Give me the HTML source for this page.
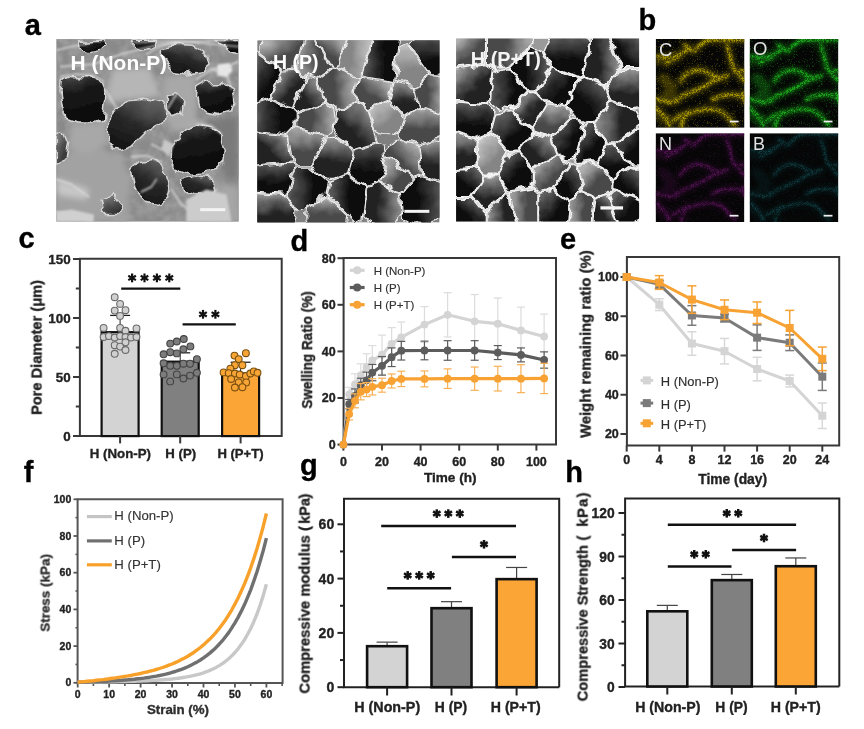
<!DOCTYPE html>
<html><head><meta charset="utf-8"><style>
html,body{margin:0;padding:0;background:#fff;}
body{width:864px;height:729px;overflow:hidden;}
svg{display:block;font-family:"Liberation Sans", sans-serif;-webkit-font-smoothing:antialiased;}
text{will-change:transform;}
</style></head><body>
<svg width="864" height="729" viewBox="0 0 864 729">
<rect width="864" height="729" fill="#fff"/>
<defs>
<filter id="blur1" x="-5%" y="-5%" width="110%" height="110%"><feGaussianBlur stdDeviation="4"/></filter>
<filter id="blur2" x="-5%" y="-5%" width="110%" height="110%"><feGaussianBlur stdDeviation="12"/></filter>
<filter id="blurE" x="-5%" y="-5%" width="110%" height="110%"><feGaussianBlur stdDeviation="8"/></filter>
<filter id="tex" x="0" y="0" width="100%" height="100%">
  <feTurbulence type="fractalNoise" baseFrequency="0.02" numOctaves="3" seed="7" result="n"/>
  <feColorMatrix in="n" type="matrix" values="0 0 0 0 0  0 0 0 0 0  0 0 0 0 0  0 0 0 1.6 -0.55" result="a"/>
  <feComposite in="SourceGraphic" in2="a" operator="in"/>
</filter>
<filter id="disp" x="-5%" y="-5%" width="110%" height="110%">
  <feTurbulence type="fractalNoise" baseFrequency="0.018" numOctaves="2" seed="3" result="t"/>
  <feDisplacementMap in="SourceGraphic" in2="t" scale="45" xChannelSelector="R" yChannelSelector="G" result="d"/>
  <feGaussianBlur in="d" stdDeviation="2.2"/>
</filter>
<filter id="disp2" x="-5%" y="-5%" width="110%" height="110%">
  <feTurbulence type="fractalNoise" baseFrequency="0.022" numOctaves="2" seed="9" result="t"/>
  <feDisplacementMap in="SourceGraphic" in2="t" scale="40" xChannelSelector="R" yChannelSelector="G" result="d"/>
  <feGaussianBlur in="d" stdDeviation="2"/>
</filter>
<clipPath id="clipS"><rect x="0" y="0" width="729" height="729"/></clipPath>
<clipPath id="clipE"><rect x="0" y="0" width="720" height="720"/></clipPath>
<linearGradient id="gV" x1="0.2" y1="0" x2="0.5" y2="1"><stop offset="0" stop-color="#484848"/><stop offset="0.35" stop-color="#181818"/><stop offset="1" stop-color="#0a0a0a"/></linearGradient>
<linearGradient id="gD" x1="0.8" y1="0" x2="0.3" y2="1"><stop offset="0" stop-color="#6a6a6a"/><stop offset="0.5" stop-color="#2a2a2a"/><stop offset="1" stop-color="#121212"/></linearGradient>
<linearGradient id="gM" x1="0" y1="0.1" x2="0.6" y2="1"><stop offset="0" stop-color="#8a8a8a"/><stop offset="0.55" stop-color="#555"/><stop offset="1" stop-color="#2e2e2e"/></linearGradient>
<filter id="speck" x="0" y="0" width="100%" height="100%">
  <feTurbulence type="fractalNoise" baseFrequency="0.3" numOctaves="1" seed="4" result="n"/>
  <feColorMatrix in="n" type="matrix" values="0 0 0 0 0  0 0 0 0 0  0 0 0 0 0  0 0 0 10 -6.0" result="a"/>
  <feComposite in="SourceGraphic" in2="a" operator="in"/>
</filter>
<filter id="grain" x="0" y="0" width="100%" height="100%">
  <feGaussianBlur in="SourceGraphic" stdDeviation="6" result="b"/>
  <feTurbulence type="fractalNoise" baseFrequency="0.28" numOctaves="1" seed="11" result="n"/>
  <feColorMatrix in="n" type="matrix" values="0 0 0 0 0  0 0 0 0 0  0 0 0 0 0  0 0 0 4 -1.6" result="a"/>
  <feComposite in="b" in2="a" operator="in"/>
</filter>
</defs>
<g transform="translate(56.2,39.1) scale(0.25048)" clip-path="url(#clipS)">
<rect x="0" y="0" width="729" height="729" fill="#8a8a8a"/>
<g filter="url(#tex)"><rect x="0" y="0" width="729" height="729" fill="#a8a8a8"/></g>
<g filter="url(#blur2)">
<polygon points="0,470 120,430 260,460 300,560 280,729 0,729" fill="#a2a2a2" stroke="none" stroke-width="0" stroke-linejoin="round" />
<polygon points="60,340 200,330 210,420 120,460 50,430" fill="#a8a8a8" stroke="none" stroke-width="0" stroke-linejoin="round" />
<polygon points="460,300 560,330 600,340 540,360 470,370" fill="#b4b4b4" stroke="none" stroke-width="0" stroke-linejoin="round" />
<polygon points="430,150 560,140 560,330 470,370 420,300" fill="#a8a8a8" stroke="none" stroke-width="0" stroke-linejoin="round" />
<polygon points="220,120 370,110 420,230 300,240 200,250" fill="#b6b6b6" stroke="none" stroke-width="0" stroke-linejoin="round" />
<polygon points="0,560 130,600 120,640 0,620" fill="#c8c8c8" stroke="none" stroke-width="0" stroke-linejoin="round" />
<polygon points="560,600 729,580 729,729 520,729" fill="#a6a6a6" stroke="none" stroke-width="0" stroke-linejoin="round" />
<polygon points="600,330 729,300 729,560 680,560" fill="#7a7a7a" stroke="none" stroke-width="0" stroke-linejoin="round" />
</g>
<g filter="url(#disp)">
<polygon points="20,170 60,150 140,150 180,165 195,200 190,260 185,320 150,335 80,335 40,320 25,280 15,220" fill="url(#gV)" stroke="#d4d4d4" stroke-width="6" stroke-linejoin="round" />
<polygon points="205,320 240,275 290,245 350,240 410,255 440,285 430,330 400,350 360,370 330,400 300,430 260,445 225,440 205,400" fill="url(#gD)" stroke="#d4d4d4" stroke-width="6" stroke-linejoin="round" />
<polygon points="565,190 600,170 660,170 700,200 710,250 700,290 650,305 600,295 570,270 560,230" fill="url(#gV)" stroke="#d4d4d4" stroke-width="6" stroke-linejoin="round" />
<polygon points="460,440 480,400 520,365 570,345 620,355 660,390 675,440 670,490 640,520 590,535 530,540 485,520 460,490" fill="url(#gV)" stroke="#d4d4d4" stroke-width="6" stroke-linejoin="round" />
<polygon points="300,520 330,490 380,480 420,500 440,540 450,600 440,640 400,660 360,650 330,620 310,580" fill="url(#gD)" stroke="#d4d4d4" stroke-width="6" stroke-linejoin="round" />
<polygon points="420,30 470,20 540,25 600,60 610,100 580,125 520,135 470,125 440,100 420,70" fill="url(#gD)" stroke="#d4d4d4" stroke-width="6" stroke-linejoin="round" />
<polygon points="90,10 180,5 200,20 180,40 130,50 90,35" fill="url(#gV)" stroke="#d4d4d4" stroke-width="6" stroke-linejoin="round" />
<polygon points="300,5 400,5 395,25 350,40 310,30" fill="url(#gV)" stroke="#d4d4d4" stroke-width="6" stroke-linejoin="round" />
<polygon points="500,560 560,545 620,555 640,600 610,625 560,620 510,600" fill="url(#gD)" stroke="#d4d4d4" stroke-width="6" stroke-linejoin="round" />
<polygon points="0,380 30,370 50,420 40,480 0,500" fill="url(#gM)" stroke="#d4d4d4" stroke-width="6" stroke-linejoin="round" />
<polygon points="180,640 230,620 260,660 240,700 190,700" fill="url(#gM)" stroke="#d4d4d4" stroke-width="6" stroke-linejoin="round" />
<polygon points="440,230 480,220 510,250 500,300 460,310 440,280" fill="url(#gD)" stroke="#d4d4d4" stroke-width="6" stroke-linejoin="round" />
<polygon points="640,10 729,10 729,60 690,50" fill="url(#gV)" stroke="#d4d4d4" stroke-width="6" stroke-linejoin="round" />
</g>
<g fill="none" stroke="#e0e0e0" stroke-width="7" stroke-linecap="round" stroke-linejoin="round" opacity="0.8" filter="url(#blur1)">
<path d="M0,560 L60,580 L130,630"/>
<path d="M20,110 L150,100 L260,60 L420,20 L729,0"/>
<path d="M560,160 L620,120 L680,110 L729,90"/>
<path d="M380,420 L420,440 L460,430"/>
<path d="M340,610 L380,590 L400,560"/>
<path d="M560,620 L600,640 L640,600"/>
<path d="M650,130 L700,110"/>
<path d="M195,200 L240,275"/>
<path d="M440,285 L480,220"/>
<path d="M0,690 L80,700 L140,729"/>
<path d="M460,600 L500,660 L560,700"/>
<path d="M620,120 L680,140 L700,200"/>
</g>
<g filter="url(#blur1)">
<polygon points="644,101 690,95 705,125 680,151 644,145" fill="#e6e6e6" stroke="none" stroke-width="0" stroke-linejoin="round" />
<polygon points="0,690 60,680 150,700 150,729 0,729" fill="#d0d0d0" stroke="none" stroke-width="0" stroke-linejoin="round" />
<polygon points="430,400 470,420 450,470 420,440" fill="#c8c8c8" stroke="none" stroke-width="0" stroke-linejoin="round" />
<polygon points="520,640 600,600 680,620 700,729 520,729" fill="#cccccc" stroke="none" stroke-width="0" stroke-linejoin="round" />
</g>
<g fill="none" stroke="#f0f0f0" stroke-width="5" stroke-linecap="round" opacity="0.85" filter="url(#blur1)">
<path d="M362,60 L412,30 L488,10"/>
<path d="M300,12 L500,8 L729,30"/>
<path d="M20,150 L80,140 L150,145 L190,170"/>
<path d="M300,470 L360,465 L420,490"/>
<path d="M560,340 L620,345 L660,380"/>
<path d="M0,45 L60,30 L120,20"/>
</g>
<rect x="575" y="675" width="100" height="12" fill="#f4f4f4"/>
</g>
<defs><linearGradient id="gV0" x1="0.00" y1="0.50" x2="1.00" y2="0.50"><stop offset="0" stop-color="#606060"/><stop offset="0.62" stop-color="#0e0e0e"/><stop offset="1" stop-color="#0e0e0e"/></linearGradient><linearGradient id="gV1" x1="0.50" y1="0.00" x2="0.50" y2="1.00"><stop offset="0" stop-color="#606060"/><stop offset="0.62" stop-color="#0e0e0e"/><stop offset="1" stop-color="#0e0e0e"/></linearGradient><linearGradient id="gV2" x1="1.00" y1="0.50" x2="0.00" y2="0.50"><stop offset="0" stop-color="#606060"/><stop offset="0.62" stop-color="#0e0e0e"/><stop offset="1" stop-color="#0e0e0e"/></linearGradient><linearGradient id="gV3" x1="0.50" y1="1.00" x2="0.50" y2="0.00"><stop offset="0" stop-color="#606060"/><stop offset="0.62" stop-color="#0e0e0e"/><stop offset="1" stop-color="#0e0e0e"/></linearGradient><linearGradient id="gV4" x1="0.15" y1="0.15" x2="0.85" y2="0.85"><stop offset="0" stop-color="#606060"/><stop offset="0.62" stop-color="#0e0e0e"/><stop offset="1" stop-color="#0e0e0e"/></linearGradient><linearGradient id="gV5" x1="0.85" y1="0.15" x2="0.15" y2="0.85"><stop offset="0" stop-color="#606060"/><stop offset="0.62" stop-color="#0e0e0e"/><stop offset="1" stop-color="#0e0e0e"/></linearGradient><linearGradient id="gD0" x1="0.00" y1="0.50" x2="1.00" y2="0.50"><stop offset="0" stop-color="#9a9a9a"/><stop offset="0.62" stop-color="#222222"/><stop offset="1" stop-color="#222222"/></linearGradient><linearGradient id="gD1" x1="0.50" y1="0.00" x2="0.50" y2="1.00"><stop offset="0" stop-color="#9a9a9a"/><stop offset="0.62" stop-color="#222222"/><stop offset="1" stop-color="#222222"/></linearGradient><linearGradient id="gD2" x1="1.00" y1="0.50" x2="0.00" y2="0.50"><stop offset="0" stop-color="#9a9a9a"/><stop offset="0.62" stop-color="#222222"/><stop offset="1" stop-color="#222222"/></linearGradient><linearGradient id="gD3" x1="0.50" y1="1.00" x2="0.50" y2="0.00"><stop offset="0" stop-color="#9a9a9a"/><stop offset="0.62" stop-color="#222222"/><stop offset="1" stop-color="#222222"/></linearGradient><linearGradient id="gD4" x1="0.15" y1="0.15" x2="0.85" y2="0.85"><stop offset="0" stop-color="#9a9a9a"/><stop offset="0.62" stop-color="#222222"/><stop offset="1" stop-color="#222222"/></linearGradient><linearGradient id="gD5" x1="0.85" y1="0.15" x2="0.15" y2="0.85"><stop offset="0" stop-color="#9a9a9a"/><stop offset="0.62" stop-color="#222222"/><stop offset="1" stop-color="#222222"/></linearGradient><linearGradient id="gM0" x1="0.00" y1="0.50" x2="1.00" y2="0.50"><stop offset="0" stop-color="#b0b0b0"/><stop offset="0.62" stop-color="#484848"/><stop offset="1" stop-color="#484848"/></linearGradient><linearGradient id="gM1" x1="0.50" y1="0.00" x2="0.50" y2="1.00"><stop offset="0" stop-color="#b0b0b0"/><stop offset="0.62" stop-color="#484848"/><stop offset="1" stop-color="#484848"/></linearGradient><linearGradient id="gM2" x1="1.00" y1="0.50" x2="0.00" y2="0.50"><stop offset="0" stop-color="#b0b0b0"/><stop offset="0.62" stop-color="#484848"/><stop offset="1" stop-color="#484848"/></linearGradient><linearGradient id="gM3" x1="0.50" y1="1.00" x2="0.50" y2="0.00"><stop offset="0" stop-color="#b0b0b0"/><stop offset="0.62" stop-color="#484848"/><stop offset="1" stop-color="#484848"/></linearGradient><linearGradient id="gM4" x1="0.15" y1="0.15" x2="0.85" y2="0.85"><stop offset="0" stop-color="#b0b0b0"/><stop offset="0.62" stop-color="#484848"/><stop offset="1" stop-color="#484848"/></linearGradient><linearGradient id="gM5" x1="0.85" y1="0.15" x2="0.15" y2="0.85"><stop offset="0" stop-color="#b0b0b0"/><stop offset="0.62" stop-color="#484848"/><stop offset="1" stop-color="#484848"/></linearGradient><linearGradient id="gL0" x1="0.00" y1="0.50" x2="1.00" y2="0.50"><stop offset="0" stop-color="#c8c8c8"/><stop offset="0.62" stop-color="#858585"/><stop offset="1" stop-color="#858585"/></linearGradient><linearGradient id="gL1" x1="0.50" y1="0.00" x2="0.50" y2="1.00"><stop offset="0" stop-color="#c8c8c8"/><stop offset="0.62" stop-color="#858585"/><stop offset="1" stop-color="#858585"/></linearGradient><linearGradient id="gL2" x1="1.00" y1="0.50" x2="0.00" y2="0.50"><stop offset="0" stop-color="#c8c8c8"/><stop offset="0.62" stop-color="#858585"/><stop offset="1" stop-color="#858585"/></linearGradient><linearGradient id="gL3" x1="0.50" y1="1.00" x2="0.50" y2="0.00"><stop offset="0" stop-color="#c8c8c8"/><stop offset="0.62" stop-color="#858585"/><stop offset="1" stop-color="#858585"/></linearGradient><linearGradient id="gL4" x1="0.15" y1="0.15" x2="0.85" y2="0.85"><stop offset="0" stop-color="#c8c8c8"/><stop offset="0.62" stop-color="#858585"/><stop offset="1" stop-color="#858585"/></linearGradient><linearGradient id="gL5" x1="0.85" y1="0.15" x2="0.15" y2="0.85"><stop offset="0" stop-color="#c8c8c8"/><stop offset="0.62" stop-color="#858585"/><stop offset="1" stop-color="#858585"/></linearGradient><filter id="bl05"><feGaussianBlur stdDeviation="2.2"/></filter></defs>
<g transform="translate(257.2,40.2) scale(0.25021)" clip-path="url(#clipS)">
<rect x="0" y="0" width="729" height="729" fill="#808080"/>
<g filter="url(#disp)">
<polygon points="103,122 -9,41 -18,44 -18,250 50,229 103,122" fill="url(#gV4)" stroke="#f0f0f0" stroke-width="4.5" stroke-linejoin="round" />
<polygon points="153,113 186,-18 29,-18 18,2 12,21 11,49 107,119 153,113" fill="url(#gM4)" stroke="#f0f0f0" stroke-width="4.5" stroke-linejoin="round" />
<polygon points="241,152 297,111 224,-18 191,-18 158,115 196,144 241,152" fill="url(#gM0)" stroke="#f0f0f0" stroke-width="4.5" stroke-linejoin="round" />
<polygon points="314,107 361,-18 233,-18 231,-15 301,109 314,107" fill="url(#gM5)" stroke="#f0f0f0" stroke-width="4.5" stroke-linejoin="round" />
<polygon points="413,139 458,-2 442,-18 366,-18 319,108 402,146 413,139" fill="url(#gL2)" stroke="#f0f0f0" stroke-width="4.5" stroke-linejoin="round" />
<polygon points="545,161 565,-5 543,-18 468,-18 418,139 545,161" fill="url(#gV0)" stroke="#f0f0f0" stroke-width="4.5" stroke-linejoin="round" />
<polygon points="600,13 582,18 566,26 551,160 630,178 691,139 600,13" fill="url(#gL1)" stroke="#f0f0f0" stroke-width="4.5" stroke-linejoin="round" />
<polygon points="717,138 736,129 746,120 746,0 736,-9 717,-18 658,-16 644,-9 632,2 615,25 696,138 717,138" fill="url(#gV1)" stroke="#f0f0f0" stroke-width="4.5" stroke-linejoin="round" />
<polygon points="140,268 191,147 154,118 108,124 55,230 140,268" fill="url(#gD4)" stroke="#f0f0f0" stroke-width="4.5" stroke-linejoin="round" />
<polygon points="270,247 240,158 196,149 144,271 156,289 270,247" fill="url(#gD5)" stroke="#f0f0f0" stroke-width="4.5" stroke-linejoin="round" />
<polygon points="320,281 386,251 399,150 316,112 301,114 245,156 275,247 320,281" fill="url(#gM2)" stroke="#f0f0f0" stroke-width="4.5" stroke-linejoin="round" />
<polygon points="525,236 542,166 415,144 404,150 391,251 442,282 525,236" fill="url(#gM5)" stroke="#f0f0f0" stroke-width="4.5" stroke-linejoin="round" />
<polygon points="645,266 628,183 547,165 530,237 587,304 645,266" fill="url(#gD1)" stroke="#f0f0f0" stroke-width="4.5" stroke-linejoin="round" />
<polygon points="633,182 650,265 727,293 746,280 746,160 722,144 695,142 633,182" fill="url(#gM2)" stroke="#f0f0f0" stroke-width="4.5" stroke-linejoin="round" />
<polygon points="52,234 -18,255 -18,359 122,381 152,348 152,293 139,273 52,234" fill="url(#gV0)" stroke="#f0f0f0" stroke-width="4.5" stroke-linejoin="round" />
<polygon points="158,347 275,379 288,368 303,347 312,306 306,278 272,251 158,294 158,347" fill="url(#gM2)" stroke="#f0f0f0" stroke-width="4.5" stroke-linejoin="round" />
<polygon points="481,405 440,286 388,255 322,285 302,374 386,434 481,405" fill="url(#gD5)" stroke="#f0f0f0" stroke-width="4.5" stroke-linejoin="round" />
<polygon points="473,368 488,376 504,381 520,382 536,381 552,376 571,364 584,308 526,240 445,286 473,368" fill="url(#gL4)" stroke="#f0f0f0" stroke-width="4.5" stroke-linejoin="round" />
<polygon points="570,390 643,413 746,379 746,305 648,270 589,309 570,390" fill="url(#gM1)" stroke="#f0f0f0" stroke-width="4.5" stroke-linejoin="round" />
<polygon points="-18,500 135,486 121,385 -6,366 -10,370 -18,378 -18,500" fill="url(#gD5)" stroke="#f0f0f0" stroke-width="4.5" stroke-linejoin="round" />
<polygon points="156,351 126,384 141,487 156,502 218,502 277,385 156,351" fill="url(#gM1)" stroke="#f0f0f0" stroke-width="4.5" stroke-linejoin="round" />
<polygon points="224,502 227,508 276,549 284,551 306,552 352,533 356,530 379,448 376,438 372,430 315,389 300,388 280,390 224,502" fill="url(#gD1)" stroke="#f0f0f0" stroke-width="4.5" stroke-linejoin="round" />
<polygon points="436,588 488,564 513,463 507,418 484,409 387,439 360,533 436,588" fill="url(#gV1)" stroke="#f0f0f0" stroke-width="4.5" stroke-linejoin="round" />
<polygon points="629,551 653,541 641,418 570,396 562,398 545,407 530,420 517,435 515,439 518,462 629,551" fill="url(#gM5)" stroke="#f0f0f0" stroke-width="4.5" stroke-linejoin="round" />
<polygon points="646,418 658,541 714,561 732,556 746,549 746,412 732,404 704,398 646,418" fill="url(#gD1)" stroke="#f0f0f0" stroke-width="4.5" stroke-linejoin="round" />
<polygon points="-18,505 -18,596 -12,607 118,617 152,506 137,491 -18,505" fill="url(#gV1)" stroke="#f0f0f0" stroke-width="4.5" stroke-linejoin="round" />
<polygon points="170,693 275,616 285,563 219,508 157,508 123,619 170,693" fill="url(#gV0)" stroke="#f0f0f0" stroke-width="4.5" stroke-linejoin="round" />
<polygon points="280,617 394,731 414,722 433,592 357,537 290,564 280,617" fill="url(#gV0)" stroke="#f0f0f0" stroke-width="4.5" stroke-linejoin="round" />
<polygon points="490,569 438,593 422,701 445,723 462,732 481,738 500,739 519,738 538,732 555,723 570,710 581,697 571,617 490,569" fill="url(#gD2)" stroke="#f0f0f0" stroke-width="4.5" stroke-linejoin="round" />
<polygon points="630,556 576,617 589,719 605,728 627,734 650,736 673,734 695,728 715,717 732,702 746,685 746,578 656,546 630,556" fill="url(#gV2)" stroke="#f0f0f0" stroke-width="4.5" stroke-linejoin="round" />
<polygon points="-12,612 -18,618 -18,742 -14,746 134,746 143,735 152,718 158,699 159,685 118,622 -12,612" fill="url(#gD1)" stroke="#f0f0f0" stroke-width="4.5" stroke-linejoin="round" />
<polygon points="201,676 198,700 199,716 204,732 212,746 348,746 356,732 362,705 277,621 201,676" fill="url(#gM1)" stroke="#f0f0f0" stroke-width="4.5" stroke-linejoin="round" />
<polygon points="519,469 516,470 493,565 573,613 625,554 519,469" fill="url(#gM4)" stroke="#f0f0f0" stroke-width="4.5" stroke-linejoin="round" />
</g>
<rect x="588" y="678" width="100" height="12" fill="#f4f4f4"/>
</g>
<g transform="translate(456.1,38.6) scale(0.25103)" clip-path="url(#clipS)">
<rect x="0" y="0" width="729" height="729" fill="#9a9a9a"/>
<g filter="url(#disp2)">
<polygon points="118,-17 -17,-17 -17,117 118,97 118,-17" fill="url(#gM4)" stroke="#f2f2f2" stroke-width="6" stroke-linejoin="round" />
<polygon points="153,119 213,111 302,22 301,8 292,-17 124,-17 124,98 153,119" fill="url(#gM2)" stroke="#f2f2f2" stroke-width="6" stroke-linejoin="round" />
<polygon points="283,209 320,209 374,111 347,56 335,50 316,44 289,43 218,114 283,209" fill="url(#gV2)" stroke="#f2f2f2" stroke-width="6" stroke-linejoin="round" />
<polygon points="488,154 502,148 534,12 532,9 520,-6 507,-17 393,-17 380,-6 368,9 359,26 353,45 352,53 380,108 488,154" fill="url(#gV1)" stroke="#f2f2f2" stroke-width="6" stroke-linejoin="round" />
<polygon points="657,118 596,-17 569,-17 545,-9 508,148 596,186 657,118" fill="url(#gD2)" stroke="#f2f2f2" stroke-width="6" stroke-linejoin="round" />
<polygon points="746,116 746,-17 620,-17 609,-4 662,116 746,116" fill="url(#gV5)" stroke="#f2f2f2" stroke-width="6" stroke-linejoin="round" />
<polygon points="3,120 -13,146 -17,158 -17,210 -13,222 2,247 132,257 149,123 121,103 3,120" fill="url(#gD4)" stroke="#f2f2f2" stroke-width="6" stroke-linejoin="round" />
<polygon points="214,120 193,121 178,125 153,141 140,245 151,259 163,269 178,277 193,281 209,283 277,212 214,120" fill="url(#gV0)" stroke="#f2f2f2" stroke-width="6" stroke-linejoin="round" />
<polygon points="439,267 484,159 379,114 325,212 364,254 439,267" fill="url(#gV4)" stroke="#f2f2f2" stroke-width="6" stroke-linejoin="round" />
<polygon points="512,335 545,334 619,252 595,192 505,153 490,159 444,270 465,311 512,335" fill="url(#gV5)" stroke="#f2f2f2" stroke-width="6" stroke-linejoin="round" />
<polygon points="601,191 625,250 713,280 728,275 746,265 746,122 662,122 601,191" fill="url(#gD1)" stroke="#f2f2f2" stroke-width="6" stroke-linejoin="round" />
<polygon points="139,373 160,294 133,263 -10,252 -17,260 -17,372 83,397 139,373" fill="url(#gV1)" stroke="#f2f2f2" stroke-width="6" stroke-linejoin="round" />
<polygon points="213,451 245,448 306,371 302,359 211,290 166,296 145,374 213,451" fill="url(#gV4)" stroke="#f2f2f2" stroke-width="6" stroke-linejoin="round" />
<polygon points="312,369 378,393 454,318 449,295 441,280 434,272 364,260 308,358 312,369" fill="url(#gM1)" stroke="#f2f2f2" stroke-width="6" stroke-linejoin="round" />
<polygon points="406,462 445,484 470,482 507,344 496,335 481,327 458,322 383,398 406,462" fill="url(#gV4)" stroke="#f2f2f2" stroke-width="6" stroke-linejoin="round" />
<polygon points="559,491 604,419 545,340 514,341 473,493 483,499 559,491" fill="url(#gV4)" stroke="#f2f2f2" stroke-width="6" stroke-linejoin="round" />
<polygon points="609,416 631,416 733,339 726,310 711,285 623,256 550,337 609,416" fill="url(#gD0)" stroke="#f2f2f2" stroke-width="6" stroke-linejoin="round" />
<polygon points="706,504 746,504 746,368 720,357 636,420 706,504" fill="url(#gV4)" stroke="#f2f2f2" stroke-width="6" stroke-linejoin="round" />
<polygon points="81,403 -11,380 -17,383 -17,520 75,512 81,403" fill="url(#gD1)" stroke="#f2f2f2" stroke-width="6" stroke-linejoin="round" />
<polygon points="118,540 156,540 208,454 143,383 134,382 87,402 81,513 118,540" fill="url(#gL4)" stroke="#f2f2f2" stroke-width="6" stroke-linejoin="round" />
<polygon points="304,588 304,514 245,454 214,457 161,542 208,604 304,588" fill="url(#gV4)" stroke="#f2f2f2" stroke-width="6" stroke-linejoin="round" />
<polygon points="310,589 330,605 383,597 454,497 404,467 310,514 310,589" fill="url(#gM4)" stroke="#f2f2f2" stroke-width="6" stroke-linejoin="round" />
<polygon points="452,645 504,612 479,505 460,499 389,599 452,645" fill="url(#gV5)" stroke="#f2f2f2" stroke-width="6" stroke-linejoin="round" />
<polygon points="554,630 602,612 617,596 619,564 559,497 486,505 510,612 554,630" fill="url(#gM4)" stroke="#f2f2f2" stroke-width="6" stroke-linejoin="round" />
<polygon points="623,559 700,507 631,422 609,422 564,493 623,559" fill="url(#gV1)" stroke="#f2f2f2" stroke-width="6" stroke-linejoin="round" />
<polygon points="625,565 623,595 740,646 746,642 746,514 743,512 705,510 625,565" fill="url(#gV5)" stroke="#f2f2f2" stroke-width="6" stroke-linejoin="round" />
<polygon points="113,543 77,518 -17,526 -17,630 67,630 113,543" fill="url(#gV5)" stroke="#f2f2f2" stroke-width="6" stroke-linejoin="round" />
<polygon points="119,546 72,632 116,688 203,608 156,546 119,546" fill="url(#gD1)" stroke="#f2f2f2" stroke-width="6" stroke-linejoin="round" />
<polygon points="210,610 249,746 321,746 326,741 326,610 307,594 210,610" fill="url(#gM0)" stroke="#f2f2f2" stroke-width="6" stroke-linejoin="round" />
<polygon points="384,603 332,611 332,730 356,746 434,746 439,744 449,650 384,603" fill="url(#gV4)" stroke="#f2f2f2" stroke-width="6" stroke-linejoin="round" />
<polygon points="507,617 455,650 445,744 447,746 537,746 551,635 507,617" fill="url(#gM0)" stroke="#f2f2f2" stroke-width="6" stroke-linejoin="round" />
<polygon points="607,615 651,746 696,746 721,729 732,715 741,700 746,683 746,655 620,601 607,615" fill="url(#gV4)" stroke="#f2f2f2" stroke-width="6" stroke-linejoin="round" />
<polygon points="67,636 -17,636 -17,746 113,746 113,693 67,636" fill="url(#gV5)" stroke="#f2f2f2" stroke-width="6" stroke-linejoin="round" />
<polygon points="119,694 119,746 242,746 205,614 119,694" fill="url(#gD0)" stroke="#f2f2f2" stroke-width="6" stroke-linejoin="round" />
<polygon points="308,509 400,462 377,399 310,375 250,451 308,509" fill="url(#gD5)" stroke="#f2f2f2" stroke-width="6" stroke-linejoin="round" />
<polygon points="358,257 320,215 282,215 224,277 224,293 304,353 358,257" fill="url(#gD4)" stroke="#f2f2f2" stroke-width="6" stroke-linejoin="round" />
<polygon points="557,635 543,742 549,746 635,746 643,740 602,619 557,635" fill="url(#gD5)" stroke="#f2f2f2" stroke-width="6" stroke-linejoin="round" />
</g>
<rect x="575" y="668" width="90" height="13" fill="#f4f4f4"/>
</g>
<text x="70.6" y="70.3" font-size="20.5" font-weight="bold" fill="#fff" textLength="96.5" lengthAdjust="spacingAndGlyphs">H (Non-P)</text>
<text x="273" y="69.1" font-size="20.5" font-weight="bold" fill="#fff" textLength="45.5" lengthAdjust="spacingAndGlyphs">H (P)</text>
<text x="470.8" y="66.3" font-size="20.5" font-weight="bold" fill="#f4f4f4" textLength="70" lengthAdjust="spacingAndGlyphs">H (P+T)</text>
<defs>
<filter id="grain2" x="0" y="0" width="100%" height="100%">
  <feGaussianBlur in="SourceGraphic" stdDeviation="7" result="b"/>
  <feTurbulence type="fractalNoise" baseFrequency="0.32" numOctaves="1" seed="21" result="n"/>
  <feColorMatrix in="n" type="matrix" values="0 0 0 0 0  0 0 0 0 0  0 0 0 0 0  0 0 0 5 -2.1" result="a"/>
  <feComposite in="b" in2="a" operator="in"/>
</filter>
<filter id="speck2" x="0" y="0" width="100%" height="100%">
  <feTurbulence type="fractalNoise" baseFrequency="0.32" numOctaves="1" seed="8" result="n"/>
  <feColorMatrix in="n" type="matrix" values="0 0 0 0 0  0 0 0 0 0  0 0 0 0 0  0 0 0 9 -5.3" result="a"/>
  <feComposite in="SourceGraphic" in2="a" operator="in"/>
</filter>
<filter id="bhaze" x="-10%" y="-10%" width="120%" height="120%"><feGaussianBlur stdDeviation="22"/></filter>
</defs>
<g transform="translate(655.7,39.0) scale(0.12333)" clip-path="url(#clipE)">
<rect x="0" y="0" width="720" height="720" fill="#060606"/>
<g fill="none" stroke="#8a7c00" stroke-linecap="round" stroke-linejoin="round" opacity="0.42" filter="url(#bhaze)">
<path d="M20,140 L80,150 L130,150 L180,135 L220,115 L245,95" stroke-width="60"/>
<path d="M90,195 L130,165 L170,150" stroke-width="60"/>
<path d="M235,50 L280,80 L310,100 L340,70 L370,40 L400,20 L440,10" stroke-width="60"/>
<path d="M420,8 L520,8 L600,5 L720,8" stroke-width="60"/>
<path d="M200,340 L240,290 L290,262 L350,250 L410,265 L470,300 L520,320" stroke-width="60"/>
<path d="M170,490 L240,452 L320,420 L400,382 L460,342 L520,320 L580,298" stroke-width="60"/>
<path d="M580,60 L600,120 L612,180 L630,240 L660,268 L712,258" stroke-width="60"/>
<path d="M0,490 L50,500 L120,515 L180,500" stroke-width="60"/>
<path d="M460,490 L530,462 L600,450 L660,455 L720,470" stroke-width="60"/>
<path d="M140,660 L200,622 L260,600 L330,585 L400,570 L470,570 L520,582 L560,612 L600,652 L640,700" stroke-width="60"/>
<path d="M0,560 L40,600 L80,640 L110,700" stroke-width="60"/>
<path d="M250,600 L222,660 L205,720" stroke-width="60"/>
<path d="M680,300 L720,340" stroke-width="60"/>
<path d="M705,440 L718,500" stroke-width="60"/>
<path d="M60,320 L100,360 L130,400 L110,450 L80,470" stroke-width="60"/>
<path d="M20,170 L100,160 L180,140" stroke-width="60"/>
<path d="M20,600 L80,650" stroke-width="60"/>
<path d="M60,320 L100,360 L130,400 L110,450 L80,470" stroke-width="90"/>
<path d="M20,170 L100,160 L180,140" stroke-width="90"/>
<path d="M20,600 L80,650" stroke-width="90"/>
</g>
<g filter="url(#speck2)"><rect x="0" y="0" width="720" height="720" fill="#c8b400" opacity="0.28"/></g>
<g filter="url(#grain2)" opacity="1.00"><g fill="none" stroke="#c8b400" stroke-linecap="round" stroke-linejoin="round">
<path d="M20,140 L80,150 L130,150 L180,135 L220,115 L245,95" stroke-width="30"/>
<path d="M90,195 L130,165 L170,150" stroke-width="30"/>
<path d="M235,50 L280,80 L310,100 L340,70 L370,40 L400,20 L440,10" stroke-width="30"/>
<path d="M420,8 L520,8 L600,5 L720,8" stroke-width="30"/>
<path d="M200,340 L240,290 L290,262 L350,250 L410,265 L470,300 L520,320" stroke-width="30"/>
<path d="M170,490 L240,452 L320,420 L400,382 L460,342 L520,320 L580,298" stroke-width="30"/>
<path d="M580,60 L600,120 L612,180 L630,240 L660,268 L712,258" stroke-width="30"/>
<path d="M0,490 L50,500 L120,515 L180,500" stroke-width="30"/>
<path d="M460,490 L530,462 L600,450 L660,455 L720,470" stroke-width="30"/>
<path d="M140,660 L200,622 L260,600 L330,585 L400,570 L470,570 L520,582 L560,612 L600,652 L640,700" stroke-width="30"/>
<path d="M0,560 L40,600 L80,640 L110,700" stroke-width="30"/>
<path d="M250,600 L222,660 L205,720" stroke-width="30"/>
<path d="M680,300 L720,340" stroke-width="30"/>
<path d="M705,440 L718,500" stroke-width="30"/>
</g></g>
<g fill="none" stroke="#8a7c00" stroke-linecap="round" stroke-linejoin="round" opacity="0.45" filter="url(#blurE)">
<path d="M20,140 L80,150 L130,150 L180,135 L220,115 L245,95" stroke-width="16"/>
<path d="M90,195 L130,165 L170,150" stroke-width="16"/>
<path d="M235,50 L280,80 L310,100 L340,70 L370,40 L400,20 L440,10" stroke-width="16"/>
<path d="M420,8 L520,8 L600,5 L720,8" stroke-width="16"/>
<path d="M200,340 L240,290 L290,262 L350,250 L410,265 L470,300 L520,320" stroke-width="16"/>
<path d="M170,490 L240,452 L320,420 L400,382 L460,342 L520,320 L580,298" stroke-width="16"/>
<path d="M580,60 L600,120 L612,180 L630,240 L660,268 L712,258" stroke-width="16"/>
<path d="M0,490 L50,500 L120,515 L180,500" stroke-width="16"/>
<path d="M460,490 L530,462 L600,450 L660,455 L720,470" stroke-width="16"/>
<path d="M140,660 L200,622 L260,600 L330,585 L400,570 L470,570 L520,582 L560,612 L600,652 L640,700" stroke-width="16"/>
<path d="M0,560 L40,600 L80,640 L110,700" stroke-width="16"/>
<path d="M250,600 L222,660 L205,720" stroke-width="16"/>
<path d="M680,300 L720,340" stroke-width="16"/>
<path d="M705,440 L718,500" stroke-width="16"/>
</g>
<rect x="600" y="662" width="72" height="14" fill="#f0f0f0"/>
</g>
<g transform="translate(749.6,39.0) scale(0.12333)" clip-path="url(#clipE)">
<rect x="0" y="0" width="720" height="720" fill="#060606"/>
<g fill="none" stroke="#148c14" stroke-linecap="round" stroke-linejoin="round" opacity="0.42" filter="url(#bhaze)">
<path d="M20,140 L80,150 L130,150 L180,135 L220,115 L245,95" stroke-width="60"/>
<path d="M90,195 L130,165 L170,150" stroke-width="60"/>
<path d="M235,50 L280,80 L310,100 L340,70 L370,40 L400,20 L440,10" stroke-width="60"/>
<path d="M420,8 L520,8 L600,5 L720,8" stroke-width="60"/>
<path d="M200,340 L240,290 L290,262 L350,250 L410,265 L470,300 L520,320" stroke-width="60"/>
<path d="M170,490 L240,452 L320,420 L400,382 L460,342 L520,320 L580,298" stroke-width="60"/>
<path d="M580,60 L600,120 L612,180 L630,240 L660,268 L712,258" stroke-width="60"/>
<path d="M0,490 L50,500 L120,515 L180,500" stroke-width="60"/>
<path d="M460,490 L530,462 L600,450 L660,455 L720,470" stroke-width="60"/>
<path d="M140,660 L200,622 L260,600 L330,585 L400,570 L470,570 L520,582 L560,612 L600,652 L640,700" stroke-width="60"/>
<path d="M0,560 L40,600 L80,640 L110,700" stroke-width="60"/>
<path d="M250,600 L222,660 L205,720" stroke-width="60"/>
<path d="M680,300 L720,340" stroke-width="60"/>
<path d="M705,440 L718,500" stroke-width="60"/>
<path d="M60,320 L100,360 L130,400 L110,450 L80,470" stroke-width="60"/>
<path d="M20,170 L100,160 L180,140" stroke-width="60"/>
<path d="M20,600 L80,650" stroke-width="60"/>
<path d="M60,320 L100,360 L130,400 L110,450 L80,470" stroke-width="90"/>
<path d="M20,170 L100,160 L180,140" stroke-width="90"/>
<path d="M20,600 L80,650" stroke-width="90"/>
</g>
<g filter="url(#speck2)"><rect x="0" y="0" width="720" height="720" fill="#22c422" opacity="0.28"/></g>
<g filter="url(#grain2)" opacity="1.00"><g fill="none" stroke="#22c422" stroke-linecap="round" stroke-linejoin="round">
<path d="M20,140 L80,150 L130,150 L180,135 L220,115 L245,95" stroke-width="30"/>
<path d="M90,195 L130,165 L170,150" stroke-width="30"/>
<path d="M235,50 L280,80 L310,100 L340,70 L370,40 L400,20 L440,10" stroke-width="30"/>
<path d="M420,8 L520,8 L600,5 L720,8" stroke-width="30"/>
<path d="M200,340 L240,290 L290,262 L350,250 L410,265 L470,300 L520,320" stroke-width="30"/>
<path d="M170,490 L240,452 L320,420 L400,382 L460,342 L520,320 L580,298" stroke-width="30"/>
<path d="M580,60 L600,120 L612,180 L630,240 L660,268 L712,258" stroke-width="30"/>
<path d="M0,490 L50,500 L120,515 L180,500" stroke-width="30"/>
<path d="M460,490 L530,462 L600,450 L660,455 L720,470" stroke-width="30"/>
<path d="M140,660 L200,622 L260,600 L330,585 L400,570 L470,570 L520,582 L560,612 L600,652 L640,700" stroke-width="30"/>
<path d="M0,560 L40,600 L80,640 L110,700" stroke-width="30"/>
<path d="M250,600 L222,660 L205,720" stroke-width="30"/>
<path d="M680,300 L720,340" stroke-width="30"/>
<path d="M705,440 L718,500" stroke-width="30"/>
</g></g>
<g fill="none" stroke="#148c14" stroke-linecap="round" stroke-linejoin="round" opacity="0.45" filter="url(#blurE)">
<path d="M20,140 L80,150 L130,150 L180,135 L220,115 L245,95" stroke-width="16"/>
<path d="M90,195 L130,165 L170,150" stroke-width="16"/>
<path d="M235,50 L280,80 L310,100 L340,70 L370,40 L400,20 L440,10" stroke-width="16"/>
<path d="M420,8 L520,8 L600,5 L720,8" stroke-width="16"/>
<path d="M200,340 L240,290 L290,262 L350,250 L410,265 L470,300 L520,320" stroke-width="16"/>
<path d="M170,490 L240,452 L320,420 L400,382 L460,342 L520,320 L580,298" stroke-width="16"/>
<path d="M580,60 L600,120 L612,180 L630,240 L660,268 L712,258" stroke-width="16"/>
<path d="M0,490 L50,500 L120,515 L180,500" stroke-width="16"/>
<path d="M460,490 L530,462 L600,450 L660,455 L720,470" stroke-width="16"/>
<path d="M140,660 L200,622 L260,600 L330,585 L400,570 L470,570 L520,582 L560,612 L600,652 L640,700" stroke-width="16"/>
<path d="M0,560 L40,600 L80,640 L110,700" stroke-width="16"/>
<path d="M250,600 L222,660 L205,720" stroke-width="16"/>
<path d="M680,300 L720,340" stroke-width="16"/>
<path d="M705,440 L718,500" stroke-width="16"/>
</g>
<rect x="600" y="662" width="72" height="14" fill="#f0f0f0"/>
</g>
<g transform="translate(655.6,133.2) scale(0.12333)" clip-path="url(#clipE)">
<rect x="0" y="0" width="720" height="720" fill="#060606"/>
<g fill="none" stroke="#701870" stroke-linecap="round" stroke-linejoin="round" opacity="0.18" filter="url(#bhaze)">
<path d="M20,140 L80,150 L130,150 L180,135 L220,115 L245,95" stroke-width="60"/>
<path d="M90,195 L130,165 L170,150" stroke-width="60"/>
<path d="M235,50 L280,80 L310,100 L340,70 L370,40 L400,20 L440,10" stroke-width="60"/>
<path d="M420,8 L520,8 L600,5 L720,8" stroke-width="60"/>
<path d="M200,340 L240,290 L290,262 L350,250 L410,265 L470,300 L520,320" stroke-width="60"/>
<path d="M170,490 L240,452 L320,420 L400,382 L460,342 L520,320 L580,298" stroke-width="60"/>
<path d="M580,60 L600,120 L612,180 L630,240 L660,268 L712,258" stroke-width="60"/>
<path d="M0,490 L50,500 L120,515 L180,500" stroke-width="60"/>
<path d="M460,490 L530,462 L600,450 L660,455 L720,470" stroke-width="60"/>
<path d="M140,660 L200,622 L260,600 L330,585 L400,570 L470,570 L520,582 L560,612 L600,652 L640,700" stroke-width="60"/>
<path d="M0,560 L40,600 L80,640 L110,700" stroke-width="60"/>
<path d="M250,600 L222,660 L205,720" stroke-width="60"/>
<path d="M680,300 L720,340" stroke-width="60"/>
<path d="M705,440 L718,500" stroke-width="60"/>
<path d="M60,320 L100,360 L130,400 L110,450 L80,470" stroke-width="60"/>
<path d="M20,170 L100,160 L180,140" stroke-width="60"/>
<path d="M20,600 L80,650" stroke-width="60"/>
<path d="M60,320 L100,360 L130,400 L110,450 L80,470" stroke-width="90"/>
<path d="M20,170 L100,160 L180,140" stroke-width="90"/>
<path d="M20,600 L80,650" stroke-width="90"/>
</g>
<g filter="url(#speck2)"><rect x="0" y="0" width="720" height="720" fill="#a828a8" opacity="0.12"/></g>
<g filter="url(#grain2)" opacity="0.42"><g fill="none" stroke="#a828a8" stroke-linecap="round" stroke-linejoin="round">
<path d="M20,140 L80,150 L130,150 L180,135 L220,115 L245,95" stroke-width="30"/>
<path d="M90,195 L130,165 L170,150" stroke-width="30"/>
<path d="M235,50 L280,80 L310,100 L340,70 L370,40 L400,20 L440,10" stroke-width="30"/>
<path d="M420,8 L520,8 L600,5 L720,8" stroke-width="30"/>
<path d="M200,340 L240,290 L290,262 L350,250 L410,265 L470,300 L520,320" stroke-width="30"/>
<path d="M170,490 L240,452 L320,420 L400,382 L460,342 L520,320 L580,298" stroke-width="30"/>
<path d="M580,60 L600,120 L612,180 L630,240 L660,268 L712,258" stroke-width="30"/>
<path d="M0,490 L50,500 L120,515 L180,500" stroke-width="30"/>
<path d="M460,490 L530,462 L600,450 L660,455 L720,470" stroke-width="30"/>
<path d="M140,660 L200,622 L260,600 L330,585 L400,570 L470,570 L520,582 L560,612 L600,652 L640,700" stroke-width="30"/>
<path d="M0,560 L40,600 L80,640 L110,700" stroke-width="30"/>
<path d="M250,600 L222,660 L205,720" stroke-width="30"/>
<path d="M680,300 L720,340" stroke-width="30"/>
<path d="M705,440 L718,500" stroke-width="30"/>
</g></g>
<g fill="none" stroke="#701870" stroke-linecap="round" stroke-linejoin="round" opacity="0.19" filter="url(#blurE)">
<path d="M20,140 L80,150 L130,150 L180,135 L220,115 L245,95" stroke-width="16"/>
<path d="M90,195 L130,165 L170,150" stroke-width="16"/>
<path d="M235,50 L280,80 L310,100 L340,70 L370,40 L400,20 L440,10" stroke-width="16"/>
<path d="M420,8 L520,8 L600,5 L720,8" stroke-width="16"/>
<path d="M200,340 L240,290 L290,262 L350,250 L410,265 L470,300 L520,320" stroke-width="16"/>
<path d="M170,490 L240,452 L320,420 L400,382 L460,342 L520,320 L580,298" stroke-width="16"/>
<path d="M580,60 L600,120 L612,180 L630,240 L660,268 L712,258" stroke-width="16"/>
<path d="M0,490 L50,500 L120,515 L180,500" stroke-width="16"/>
<path d="M460,490 L530,462 L600,450 L660,455 L720,470" stroke-width="16"/>
<path d="M140,660 L200,622 L260,600 L330,585 L400,570 L470,570 L520,582 L560,612 L600,652 L640,700" stroke-width="16"/>
<path d="M0,560 L40,600 L80,640 L110,700" stroke-width="16"/>
<path d="M250,600 L222,660 L205,720" stroke-width="16"/>
<path d="M680,300 L720,340" stroke-width="16"/>
<path d="M705,440 L718,500" stroke-width="16"/>
</g>
<rect x="600" y="662" width="72" height="14" fill="#f0f0f0"/>
</g>
<g transform="translate(749.6,133.2) scale(0.12333)" clip-path="url(#clipE)">
<rect x="0" y="0" width="720" height="720" fill="#060606"/>
<g fill="none" stroke="#146068" stroke-linecap="round" stroke-linejoin="round" opacity="0.13" filter="url(#bhaze)">
<path d="M20,140 L80,150 L130,150 L180,135 L220,115 L245,95" stroke-width="60"/>
<path d="M90,195 L130,165 L170,150" stroke-width="60"/>
<path d="M235,50 L280,80 L310,100 L340,70 L370,40 L400,20 L440,10" stroke-width="60"/>
<path d="M420,8 L520,8 L600,5 L720,8" stroke-width="60"/>
<path d="M200,340 L240,290 L290,262 L350,250 L410,265 L470,300 L520,320" stroke-width="60"/>
<path d="M170,490 L240,452 L320,420 L400,382 L460,342 L520,320 L580,298" stroke-width="60"/>
<path d="M580,60 L600,120 L612,180 L630,240 L660,268 L712,258" stroke-width="60"/>
<path d="M0,490 L50,500 L120,515 L180,500" stroke-width="60"/>
<path d="M460,490 L530,462 L600,450 L660,455 L720,470" stroke-width="60"/>
<path d="M140,660 L200,622 L260,600 L330,585 L400,570 L470,570 L520,582 L560,612 L600,652 L640,700" stroke-width="60"/>
<path d="M0,560 L40,600 L80,640 L110,700" stroke-width="60"/>
<path d="M250,600 L222,660 L205,720" stroke-width="60"/>
<path d="M680,300 L720,340" stroke-width="60"/>
<path d="M705,440 L718,500" stroke-width="60"/>
<path d="M60,320 L100,360 L130,400 L110,450 L80,470" stroke-width="60"/>
<path d="M20,170 L100,160 L180,140" stroke-width="60"/>
<path d="M20,600 L80,650" stroke-width="60"/>
<path d="M60,320 L100,360 L130,400 L110,450 L80,470" stroke-width="90"/>
<path d="M20,170 L100,160 L180,140" stroke-width="90"/>
<path d="M20,600 L80,650" stroke-width="90"/>
</g>
<g filter="url(#speck2)"><rect x="0" y="0" width="720" height="720" fill="#2898a2" opacity="0.08"/></g>
<g filter="url(#grain2)" opacity="0.30"><g fill="none" stroke="#2898a2" stroke-linecap="round" stroke-linejoin="round">
<path d="M20,140 L80,150 L130,150 L180,135 L220,115 L245,95" stroke-width="30"/>
<path d="M90,195 L130,165 L170,150" stroke-width="30"/>
<path d="M235,50 L280,80 L310,100 L340,70 L370,40 L400,20 L440,10" stroke-width="30"/>
<path d="M420,8 L520,8 L600,5 L720,8" stroke-width="30"/>
<path d="M200,340 L240,290 L290,262 L350,250 L410,265 L470,300 L520,320" stroke-width="30"/>
<path d="M170,490 L240,452 L320,420 L400,382 L460,342 L520,320 L580,298" stroke-width="30"/>
<path d="M580,60 L600,120 L612,180 L630,240 L660,268 L712,258" stroke-width="30"/>
<path d="M0,490 L50,500 L120,515 L180,500" stroke-width="30"/>
<path d="M460,490 L530,462 L600,450 L660,455 L720,470" stroke-width="30"/>
<path d="M140,660 L200,622 L260,600 L330,585 L400,570 L470,570 L520,582 L560,612 L600,652 L640,700" stroke-width="30"/>
<path d="M0,560 L40,600 L80,640 L110,700" stroke-width="30"/>
<path d="M250,600 L222,660 L205,720" stroke-width="30"/>
<path d="M680,300 L720,340" stroke-width="30"/>
<path d="M705,440 L718,500" stroke-width="30"/>
</g></g>
<g fill="none" stroke="#146068" stroke-linecap="round" stroke-linejoin="round" opacity="0.14" filter="url(#blurE)">
<path d="M20,140 L80,150 L130,150 L180,135 L220,115 L245,95" stroke-width="16"/>
<path d="M90,195 L130,165 L170,150" stroke-width="16"/>
<path d="M235,50 L280,80 L310,100 L340,70 L370,40 L400,20 L440,10" stroke-width="16"/>
<path d="M420,8 L520,8 L600,5 L720,8" stroke-width="16"/>
<path d="M200,340 L240,290 L290,262 L350,250 L410,265 L470,300 L520,320" stroke-width="16"/>
<path d="M170,490 L240,452 L320,420 L400,382 L460,342 L520,320 L580,298" stroke-width="16"/>
<path d="M580,60 L600,120 L612,180 L630,240 L660,268 L712,258" stroke-width="16"/>
<path d="M0,490 L50,500 L120,515 L180,500" stroke-width="16"/>
<path d="M460,490 L530,462 L600,450 L660,455 L720,470" stroke-width="16"/>
<path d="M140,660 L200,622 L260,600 L330,585 L400,570 L470,570 L520,582 L560,612 L600,652 L640,700" stroke-width="16"/>
<path d="M0,560 L40,600 L80,640 L110,700" stroke-width="16"/>
<path d="M250,600 L222,660 L205,720" stroke-width="16"/>
<path d="M680,300 L720,340" stroke-width="16"/>
<path d="M705,440 L718,500" stroke-width="16"/>
</g>
<rect x="600" y="662" width="72" height="14" fill="#f0f0f0"/>
</g>
<text x="659" y="56.1" font-size="18.5" fill="#e2e2e2">C</text>
<text x="753" y="55.2" font-size="18.5" fill="#e2e2e2">O</text>
<text x="659" y="149.6" font-size="18" fill="#e2e2e2">N</text>
<text x="753" y="149.6" font-size="18" fill="#e2e2e2">B</text>
<text x="24.80" y="35.00" font-size="29" text-anchor="start" font-weight="bold" fill="#000" stroke="#000" stroke-width="0.35" >a</text>
<text x="638.50" y="30.00" font-size="29" text-anchor="start" font-weight="bold" fill="#000" stroke="#000" stroke-width="0.35" >b</text>
<text x="18.50" y="247.80" font-size="29" text-anchor="start" font-weight="bold" fill="#000" stroke="#000" stroke-width="0.35" >c</text>
<text x="290.50" y="251.20" font-size="29" text-anchor="start" font-weight="bold" fill="#000" stroke="#000" stroke-width="0.35" >d</text>
<text x="560.00" y="249.40" font-size="29" text-anchor="start" font-weight="bold" fill="#000" stroke="#000" stroke-width="0.35" >e</text>
<text x="23.80" y="481.80" font-size="29" text-anchor="start" font-weight="bold" fill="#000" stroke="#000" stroke-width="0.35" >f</text>
<text x="300.00" y="475.20" font-size="29" text-anchor="start" font-weight="bold" fill="#000" stroke="#000" stroke-width="0.35" >g</text>
<text x="565.30" y="482.20" font-size="29" text-anchor="start" font-weight="bold" fill="#000" stroke="#000" stroke-width="0.35" >h</text>
<path d="M79.9,436.1 L79.9,258.8 L281.7,258.8 L281.7,436.1 Z" fill="none" stroke="#383838" stroke-width="2"/>
<line x1="73.00" y1="436.00" x2="79.90" y2="436.00" stroke="#383838" stroke-width="2" />
<text x="70.60" y="440.90" font-size="13.4" text-anchor="end" font-weight="bold" fill="#222" stroke="#222" stroke-width="0.35" >0</text>
<line x1="73.00" y1="377.00" x2="79.90" y2="377.00" stroke="#383838" stroke-width="2" />
<text x="70.60" y="381.90" font-size="13.4" text-anchor="end" font-weight="bold" fill="#222" stroke="#222" stroke-width="0.35" >50</text>
<line x1="73.00" y1="318.00" x2="79.90" y2="318.00" stroke="#383838" stroke-width="2" />
<text x="70.60" y="322.90" font-size="13.4" text-anchor="end" font-weight="bold" fill="#222" stroke="#222" stroke-width="0.35" >100</text>
<line x1="73.00" y1="259.00" x2="79.90" y2="259.00" stroke="#383838" stroke-width="2" />
<text x="70.60" y="263.90" font-size="13.4" text-anchor="end" font-weight="bold" fill="#222" stroke="#222" stroke-width="0.35" >150</text>
<line x1="75.80" y1="406.50" x2="79.90" y2="406.50" stroke="#383838" stroke-width="2" />
<line x1="75.80" y1="347.50" x2="79.90" y2="347.50" stroke="#383838" stroke-width="2" />
<line x1="75.80" y1="288.50" x2="79.90" y2="288.50" stroke="#383838" stroke-width="2" />
<text x="0" y="0" transform="translate(41.60,279.90) rotate(-90)" font-size="14.7" text-anchor="end" font-weight="bold" fill="#222" stroke="#222" stroke-width="0.35" textLength="135.1" lengthAdjust="spacingAndGlyphs">Pore Diameter (μm)</text>
<rect x="101.60" y="332.16" width="37.00" height="103.94" fill="#d3d3d3" stroke="#111" stroke-width="2.2" />
<line x1="120.10" y1="332.16" x2="120.10" y2="315.40" stroke="#222" stroke-width="1" />
<line x1="110.10" y1="315.40" x2="130.10" y2="315.40" stroke="#222" stroke-width="1.3" />
<circle cx="114.7" cy="297.2" r="3.4" fill="#d0d0d0" stroke="#6a6a6a" stroke-width="1.1"/>
<circle cx="120.1" cy="303.9" r="3.4" fill="#d0d0d0" stroke="#6a6a6a" stroke-width="1.1"/>
<circle cx="114.7" cy="310.6" r="3.4" fill="#d0d0d0" stroke="#6a6a6a" stroke-width="1.1"/>
<circle cx="125.5" cy="310.2" r="3.4" fill="#d0d0d0" stroke="#6a6a6a" stroke-width="1.1"/>
<circle cx="120.1" cy="315.9" r="3.4" fill="#d0d0d0" stroke="#6a6a6a" stroke-width="1.1"/>
<circle cx="103.6" cy="327.9" r="3.4" fill="#d0d0d0" stroke="#6a6a6a" stroke-width="1.1"/>
<circle cx="120.1" cy="327.9" r="3.4" fill="#d0d0d0" stroke="#6a6a6a" stroke-width="1.1"/>
<circle cx="136.5" cy="328.4" r="3.4" fill="#d0d0d0" stroke="#6a6a6a" stroke-width="1.1"/>
<circle cx="125.5" cy="330.8" r="3.4" fill="#d0d0d0" stroke="#6a6a6a" stroke-width="1.1"/>
<circle cx="103.6" cy="337.0" r="3.4" fill="#d0d0d0" stroke="#6a6a6a" stroke-width="1.1"/>
<circle cx="108.9" cy="336.1" r="3.4" fill="#d0d0d0" stroke="#6a6a6a" stroke-width="1.1"/>
<circle cx="114.7" cy="337.5" r="3.4" fill="#d0d0d0" stroke="#6a6a6a" stroke-width="1.1"/>
<circle cx="120.1" cy="336.1" r="3.4" fill="#d0d0d0" stroke="#6a6a6a" stroke-width="1.1"/>
<circle cx="125.5" cy="337.0" r="3.4" fill="#d0d0d0" stroke="#6a6a6a" stroke-width="1.1"/>
<circle cx="131.0" cy="337.5" r="3.4" fill="#d0d0d0" stroke="#6a6a6a" stroke-width="1.1"/>
<circle cx="136.5" cy="337.0" r="3.4" fill="#d0d0d0" stroke="#6a6a6a" stroke-width="1.1"/>
<circle cx="125.5" cy="342.3" r="3.4" fill="#d0d0d0" stroke="#6a6a6a" stroke-width="1.1"/>
<circle cx="114.7" cy="345.2" r="3.4" fill="#d0d0d0" stroke="#6a6a6a" stroke-width="1.1"/>
<circle cx="120.1" cy="346.6" r="3.4" fill="#d0d0d0" stroke="#6a6a6a" stroke-width="1.1"/>
<circle cx="125.5" cy="350.0" r="3.4" fill="#d0d0d0" stroke="#6a6a6a" stroke-width="1.1"/>
<circle cx="114.7" cy="353.8" r="3.4" fill="#d0d0d0" stroke="#6a6a6a" stroke-width="1.1"/>
<line x1="120.10" y1="436.10" x2="120.10" y2="443.40" stroke="#383838" stroke-width="2" />
<rect x="161.70" y="361.66" width="37.00" height="74.44" fill="#808080" stroke="#111" stroke-width="2.2" />
<line x1="180.20" y1="361.66" x2="180.20" y2="352.81" stroke="#222" stroke-width="1" />
<line x1="170.20" y1="352.81" x2="190.20" y2="352.81" stroke="#222" stroke-width="1.3" />
<circle cx="183.8" cy="339.0" r="3.4" fill="#7c7c7c" stroke="#444" stroke-width="1.1"/>
<circle cx="176.8" cy="341.5" r="3.4" fill="#7c7c7c" stroke="#444" stroke-width="1.1"/>
<circle cx="170.2" cy="343.6" r="3.4" fill="#7c7c7c" stroke="#444" stroke-width="1.1"/>
<circle cx="190.4" cy="346.4" r="3.4" fill="#7c7c7c" stroke="#444" stroke-width="1.1"/>
<circle cx="183.4" cy="349.3" r="3.4" fill="#7c7c7c" stroke="#444" stroke-width="1.1"/>
<circle cx="170.2" cy="352.2" r="3.4" fill="#7c7c7c" stroke="#444" stroke-width="1.1"/>
<circle cx="176.8" cy="353.4" r="3.4" fill="#7c7c7c" stroke="#444" stroke-width="1.1"/>
<circle cx="163.6" cy="354.3" r="3.4" fill="#7c7c7c" stroke="#444" stroke-width="1.1"/>
<circle cx="196.9" cy="359.2" r="3.4" fill="#7c7c7c" stroke="#444" stroke-width="1.1"/>
<circle cx="163.6" cy="363.3" r="3.4" fill="#7c7c7c" stroke="#444" stroke-width="1.1"/>
<circle cx="170.2" cy="365.8" r="3.4" fill="#7c7c7c" stroke="#444" stroke-width="1.1"/>
<circle cx="176.8" cy="365.8" r="3.4" fill="#7c7c7c" stroke="#444" stroke-width="1.1"/>
<circle cx="183.4" cy="363.7" r="3.4" fill="#7c7c7c" stroke="#444" stroke-width="1.1"/>
<circle cx="190.0" cy="363.7" r="3.4" fill="#7c7c7c" stroke="#444" stroke-width="1.1"/>
<circle cx="163.6" cy="374.4" r="3.4" fill="#7c7c7c" stroke="#444" stroke-width="1.1"/>
<circle cx="176.8" cy="374.4" r="3.4" fill="#7c7c7c" stroke="#444" stroke-width="1.1"/>
<circle cx="196.9" cy="372.8" r="3.4" fill="#7c7c7c" stroke="#444" stroke-width="1.1"/>
<circle cx="190.0" cy="375.6" r="3.4" fill="#7c7c7c" stroke="#444" stroke-width="1.1"/>
<circle cx="183.4" cy="378.5" r="3.4" fill="#7c7c7c" stroke="#444" stroke-width="1.1"/>
<circle cx="170.2" cy="381.4" r="3.4" fill="#7c7c7c" stroke="#444" stroke-width="1.1"/>
<line x1="180.20" y1="436.10" x2="180.20" y2="443.40" stroke="#383838" stroke-width="2" />
<rect x="222.10" y="373.46" width="37.00" height="62.64" fill="#fba537" stroke="#111" stroke-width="2.2" />
<line x1="240.60" y1="373.46" x2="240.60" y2="362.25" stroke="#222" stroke-width="1" />
<line x1="230.60" y1="362.25" x2="250.60" y2="362.25" stroke="#222" stroke-width="1.3" />
<circle cx="245.9" cy="353.2" r="3.4" fill="#f9a535" stroke="#7a5010" stroke-width="1.1"/>
<circle cx="234.5" cy="355.6" r="3.4" fill="#f9a535" stroke="#7a5010" stroke-width="1.1"/>
<circle cx="238.7" cy="359.1" r="3.4" fill="#f9a535" stroke="#7a5010" stroke-width="1.1"/>
<circle cx="234.9" cy="365.2" r="3.4" fill="#f9a535" stroke="#7a5010" stroke-width="1.1"/>
<circle cx="242.4" cy="365.2" r="3.4" fill="#f9a535" stroke="#7a5010" stroke-width="1.1"/>
<circle cx="230.4" cy="368.7" r="3.4" fill="#f9a535" stroke="#7a5010" stroke-width="1.1"/>
<circle cx="223.6" cy="372.4" r="3.4" fill="#f9a535" stroke="#7a5010" stroke-width="1.1"/>
<circle cx="228.7" cy="373.1" r="3.4" fill="#f9a535" stroke="#7a5010" stroke-width="1.1"/>
<circle cx="234.9" cy="373.5" r="3.4" fill="#f9a535" stroke="#7a5010" stroke-width="1.1"/>
<circle cx="239.7" cy="374.5" r="3.4" fill="#f9a535" stroke="#7a5010" stroke-width="1.1"/>
<circle cx="245.9" cy="376.2" r="3.4" fill="#f9a535" stroke="#7a5010" stroke-width="1.1"/>
<circle cx="250.3" cy="373.5" r="3.4" fill="#f9a535" stroke="#7a5010" stroke-width="1.1"/>
<circle cx="253.8" cy="371.4" r="3.4" fill="#f9a535" stroke="#7a5010" stroke-width="1.1"/>
<circle cx="257.5" cy="372.8" r="3.4" fill="#f9a535" stroke="#7a5010" stroke-width="1.1"/>
<circle cx="231.1" cy="379.0" r="3.4" fill="#f9a535" stroke="#7a5010" stroke-width="1.1"/>
<circle cx="238.7" cy="382.4" r="3.4" fill="#f9a535" stroke="#7a5010" stroke-width="1.1"/>
<circle cx="246.2" cy="382.4" r="3.4" fill="#f9a535" stroke="#7a5010" stroke-width="1.1"/>
<circle cx="234.9" cy="387.5" r="3.4" fill="#f9a535" stroke="#7a5010" stroke-width="1.1"/>
<circle cx="242.4" cy="387.2" r="3.4" fill="#f9a535" stroke="#7a5010" stroke-width="1.1"/>
<line x1="240.60" y1="436.10" x2="240.60" y2="443.40" stroke="#383838" stroke-width="2" />
<text x="120.40" y="458.00" font-size="13.5" text-anchor="middle" font-weight="bold" fill="#222" stroke="#222" stroke-width="0.35" textLength="61.2" lengthAdjust="spacingAndGlyphs">H (Non-P)</text>
<text x="180.70" y="458.00" font-size="13.5" text-anchor="middle" font-weight="bold" fill="#222" stroke="#222" stroke-width="0.35" textLength="30.8" lengthAdjust="spacingAndGlyphs">H (P)</text>
<text x="240.50" y="458.00" font-size="13.5" text-anchor="middle" font-weight="bold" fill="#222" stroke="#222" stroke-width="0.35" textLength="46.2" lengthAdjust="spacingAndGlyphs">H (P+T)</text>
<line x1="121.20" y1="288.60" x2="180.30" y2="288.60" stroke="#111" stroke-width="2.4" />
<line x1="132.10" y1="273.50" x2="132.10" y2="282.30" stroke="#111" stroke-width="2.2" stroke-linecap="butt"/>
<line x1="128.29" y1="275.70" x2="135.91" y2="280.10" stroke="#111" stroke-width="2.2" stroke-linecap="butt"/>
<line x1="135.91" y1="275.70" x2="128.29" y2="280.10" stroke="#111" stroke-width="2.2" stroke-linecap="butt"/>
<line x1="144.50" y1="273.50" x2="144.50" y2="282.30" stroke="#111" stroke-width="2.2" stroke-linecap="butt"/>
<line x1="140.69" y1="275.70" x2="148.31" y2="280.10" stroke="#111" stroke-width="2.2" stroke-linecap="butt"/>
<line x1="148.31" y1="275.70" x2="140.69" y2="280.10" stroke="#111" stroke-width="2.2" stroke-linecap="butt"/>
<line x1="156.90" y1="273.50" x2="156.90" y2="282.30" stroke="#111" stroke-width="2.2" stroke-linecap="butt"/>
<line x1="153.09" y1="275.70" x2="160.71" y2="280.10" stroke="#111" stroke-width="2.2" stroke-linecap="butt"/>
<line x1="160.71" y1="275.70" x2="153.09" y2="280.10" stroke="#111" stroke-width="2.2" stroke-linecap="butt"/>
<line x1="169.30" y1="273.50" x2="169.30" y2="282.30" stroke="#111" stroke-width="2.2" stroke-linecap="butt"/>
<line x1="165.49" y1="275.70" x2="173.11" y2="280.10" stroke="#111" stroke-width="2.2" stroke-linecap="butt"/>
<line x1="173.11" y1="275.70" x2="165.49" y2="280.10" stroke="#111" stroke-width="2.2" stroke-linecap="butt"/>
<line x1="182.60" y1="324.40" x2="235.80" y2="324.40" stroke="#111" stroke-width="2.4" />
<line x1="203.00" y1="309.90" x2="203.00" y2="318.70" stroke="#111" stroke-width="2.2" stroke-linecap="butt"/>
<line x1="199.19" y1="312.10" x2="206.81" y2="316.50" stroke="#111" stroke-width="2.2" stroke-linecap="butt"/>
<line x1="206.81" y1="312.10" x2="199.19" y2="316.50" stroke="#111" stroke-width="2.2" stroke-linecap="butt"/>
<line x1="215.40" y1="309.90" x2="215.40" y2="318.70" stroke="#111" stroke-width="2.2" stroke-linecap="butt"/>
<line x1="211.59" y1="312.10" x2="219.21" y2="316.50" stroke="#111" stroke-width="2.2" stroke-linecap="butt"/>
<line x1="219.21" y1="312.10" x2="211.59" y2="316.50" stroke="#111" stroke-width="2.2" stroke-linecap="butt"/>
<path d="M343.6,444.6 L343.6,257.9 L556.0,257.9 L556.0,444.6 Z" fill="none" stroke="#383838" stroke-width="2"/>
<line x1="337.50" y1="444.60" x2="343.60" y2="444.60" stroke="#383838" stroke-width="2" />
<text x="335.60" y="448.90" font-size="12.5" text-anchor="end" font-weight="bold" fill="#222" stroke="#222" stroke-width="0.35" >0</text>
<line x1="337.50" y1="398.00" x2="343.60" y2="398.00" stroke="#383838" stroke-width="2" />
<text x="335.60" y="402.30" font-size="12.5" text-anchor="end" font-weight="bold" fill="#222" stroke="#222" stroke-width="0.35" >20</text>
<line x1="337.50" y1="351.40" x2="343.60" y2="351.40" stroke="#383838" stroke-width="2" />
<text x="335.60" y="355.70" font-size="12.5" text-anchor="end" font-weight="bold" fill="#222" stroke="#222" stroke-width="0.35" >40</text>
<line x1="337.50" y1="304.80" x2="343.60" y2="304.80" stroke="#383838" stroke-width="2" />
<text x="335.60" y="309.10" font-size="12.5" text-anchor="end" font-weight="bold" fill="#222" stroke="#222" stroke-width="0.35" >60</text>
<line x1="337.50" y1="258.20" x2="343.60" y2="258.20" stroke="#383838" stroke-width="2" />
<text x="335.60" y="262.50" font-size="12.5" text-anchor="end" font-weight="bold" fill="#222" stroke="#222" stroke-width="0.35" >80</text>
<line x1="343.40" y1="444.60" x2="343.40" y2="450.60" stroke="#383838" stroke-width="2" />
<text x="343.40" y="466.40" font-size="12.5" text-anchor="middle" font-weight="bold" fill="#222" stroke="#222" stroke-width="0.35" >0</text>
<line x1="382.00" y1="444.60" x2="382.00" y2="450.60" stroke="#383838" stroke-width="2" />
<text x="382.00" y="466.40" font-size="12.5" text-anchor="middle" font-weight="bold" fill="#222" stroke="#222" stroke-width="0.35" >20</text>
<line x1="420.60" y1="444.60" x2="420.60" y2="450.60" stroke="#383838" stroke-width="2" />
<text x="420.60" y="466.40" font-size="12.5" text-anchor="middle" font-weight="bold" fill="#222" stroke="#222" stroke-width="0.35" >40</text>
<line x1="459.20" y1="444.60" x2="459.20" y2="450.60" stroke="#383838" stroke-width="2" />
<text x="459.20" y="466.40" font-size="12.5" text-anchor="middle" font-weight="bold" fill="#222" stroke="#222" stroke-width="0.35" >60</text>
<line x1="497.80" y1="444.60" x2="497.80" y2="450.60" stroke="#383838" stroke-width="2" />
<text x="497.80" y="466.40" font-size="12.5" text-anchor="middle" font-weight="bold" fill="#222" stroke="#222" stroke-width="0.35" >80</text>
<line x1="536.40" y1="444.60" x2="536.40" y2="450.60" stroke="#383838" stroke-width="2" />
<text x="536.40" y="466.40" font-size="12.5" text-anchor="middle" font-weight="bold" fill="#222" stroke="#222" stroke-width="0.35" >100</text>
<text x="450.20" y="482.10" font-size="13.6" text-anchor="middle" font-weight="bold" fill="#222" stroke="#222" stroke-width="0.35" >Time (h)</text>
<text x="0" y="0" transform="translate(312.10,408.60) rotate(-90)" font-size="13.8" text-anchor="start" font-weight="bold" fill="#222" stroke="#222" stroke-width="0.35" textLength="117.2" lengthAdjust="spacingAndGlyphs">Swelling Ratio (%)</text>
<line x1="349.19" y1="401.26" x2="349.19" y2="387.28" stroke="#dcdcdc" stroke-width="1.2" />
<line x1="345.19" y1="387.28" x2="353.19" y2="387.28" stroke="#dcdcdc" stroke-width="1.2" />
<line x1="345.19" y1="401.26" x2="353.19" y2="401.26" stroke="#dcdcdc" stroke-width="1.2" />
<line x1="354.98" y1="394.74" x2="354.98" y2="373.77" stroke="#dcdcdc" stroke-width="1.2" />
<line x1="350.98" y1="373.77" x2="358.98" y2="373.77" stroke="#dcdcdc" stroke-width="1.2" />
<line x1="350.98" y1="394.74" x2="358.98" y2="394.74" stroke="#dcdcdc" stroke-width="1.2" />
<line x1="360.77" y1="387.05" x2="360.77" y2="363.75" stroke="#dcdcdc" stroke-width="1.2" />
<line x1="356.77" y1="363.75" x2="364.77" y2="363.75" stroke="#dcdcdc" stroke-width="1.2" />
<line x1="356.77" y1="387.05" x2="364.77" y2="387.05" stroke="#dcdcdc" stroke-width="1.2" />
<line x1="366.56" y1="380.29" x2="366.56" y2="353.73" stroke="#dcdcdc" stroke-width="1.2" />
<line x1="362.56" y1="353.73" x2="370.56" y2="353.73" stroke="#dcdcdc" stroke-width="1.2" />
<line x1="362.56" y1="380.29" x2="370.56" y2="380.29" stroke="#dcdcdc" stroke-width="1.2" />
<line x1="372.35" y1="375.40" x2="372.35" y2="345.58" stroke="#dcdcdc" stroke-width="1.2" />
<line x1="368.35" y1="345.58" x2="376.35" y2="345.58" stroke="#dcdcdc" stroke-width="1.2" />
<line x1="368.35" y1="375.40" x2="376.35" y2="375.40" stroke="#dcdcdc" stroke-width="1.2" />
<line x1="382.00" y1="374.23" x2="382.00" y2="335.09" stroke="#dcdcdc" stroke-width="1.2" />
<line x1="378.00" y1="335.09" x2="386.00" y2="335.09" stroke="#dcdcdc" stroke-width="1.2" />
<line x1="378.00" y1="374.23" x2="386.00" y2="374.23" stroke="#dcdcdc" stroke-width="1.2" />
<line x1="391.65" y1="360.25" x2="391.65" y2="327.63" stroke="#dcdcdc" stroke-width="1.2" />
<line x1="387.65" y1="327.63" x2="395.65" y2="327.63" stroke="#dcdcdc" stroke-width="1.2" />
<line x1="387.65" y1="360.25" x2="395.65" y2="360.25" stroke="#dcdcdc" stroke-width="1.2" />
<line x1="401.30" y1="352.80" x2="401.30" y2="322.04" stroke="#dcdcdc" stroke-width="1.2" />
<line x1="397.30" y1="322.04" x2="405.30" y2="322.04" stroke="#dcdcdc" stroke-width="1.2" />
<line x1="397.30" y1="352.80" x2="405.30" y2="352.80" stroke="#dcdcdc" stroke-width="1.2" />
<line x1="424.46" y1="342.55" x2="424.46" y2="306.66" stroke="#dcdcdc" stroke-width="1.2" />
<line x1="420.46" y1="306.66" x2="428.46" y2="306.66" stroke="#dcdcdc" stroke-width="1.2" />
<line x1="420.46" y1="342.55" x2="428.46" y2="342.55" stroke="#dcdcdc" stroke-width="1.2" />
<line x1="447.62" y1="336.95" x2="447.62" y2="292.68" stroke="#dcdcdc" stroke-width="1.2" />
<line x1="443.62" y1="292.68" x2="451.62" y2="292.68" stroke="#dcdcdc" stroke-width="1.2" />
<line x1="443.62" y1="336.95" x2="451.62" y2="336.95" stroke="#dcdcdc" stroke-width="1.2" />
<line x1="474.64" y1="348.14" x2="474.64" y2="294.55" stroke="#dcdcdc" stroke-width="1.2" />
<line x1="470.64" y1="294.55" x2="478.64" y2="294.55" stroke="#dcdcdc" stroke-width="1.2" />
<line x1="470.64" y1="348.14" x2="478.64" y2="348.14" stroke="#dcdcdc" stroke-width="1.2" />
<line x1="497.80" y1="349.30" x2="497.80" y2="298.04" stroke="#dcdcdc" stroke-width="1.2" />
<line x1="493.80" y1="298.04" x2="501.80" y2="298.04" stroke="#dcdcdc" stroke-width="1.2" />
<line x1="493.80" y1="349.30" x2="501.80" y2="349.30" stroke="#dcdcdc" stroke-width="1.2" />
<line x1="520.96" y1="353.73" x2="520.96" y2="307.13" stroke="#dcdcdc" stroke-width="1.2" />
<line x1="516.96" y1="307.13" x2="524.96" y2="307.13" stroke="#dcdcdc" stroke-width="1.2" />
<line x1="516.96" y1="353.73" x2="524.96" y2="353.73" stroke="#dcdcdc" stroke-width="1.2" />
<line x1="544.12" y1="358.86" x2="544.12" y2="314.12" stroke="#dcdcdc" stroke-width="1.2" />
<line x1="540.12" y1="314.12" x2="548.12" y2="314.12" stroke="#dcdcdc" stroke-width="1.2" />
<line x1="540.12" y1="358.86" x2="548.12" y2="358.86" stroke="#dcdcdc" stroke-width="1.2" />
<polyline points="343.4,444.6 349.2,394.3 355.0,384.3 360.8,375.4 366.6,367.0 372.3,360.5 382.0,354.7 391.6,343.9 401.3,337.4 424.5,324.6 447.6,314.8 474.6,321.3 497.8,323.7 521.0,330.4 544.1,336.5" fill="none" stroke="#d4d4d4" stroke-width="3.2" stroke-linejoin="round"/>
<circle cx="343.4" cy="444.6" r="3.9" fill="#d4d4d4"/>
<circle cx="349.2" cy="394.3" r="3.9" fill="#d4d4d4"/>
<circle cx="355.0" cy="384.3" r="3.9" fill="#d4d4d4"/>
<circle cx="360.8" cy="375.4" r="3.9" fill="#d4d4d4"/>
<circle cx="366.6" cy="367.0" r="3.9" fill="#d4d4d4"/>
<circle cx="372.3" cy="360.5" r="3.9" fill="#d4d4d4"/>
<circle cx="382.0" cy="354.7" r="3.9" fill="#d4d4d4"/>
<circle cx="391.6" cy="343.9" r="3.9" fill="#d4d4d4"/>
<circle cx="401.3" cy="337.4" r="3.9" fill="#d4d4d4"/>
<circle cx="424.5" cy="324.6" r="3.9" fill="#d4d4d4"/>
<circle cx="447.6" cy="314.8" r="3.9" fill="#d4d4d4"/>
<circle cx="474.6" cy="321.3" r="3.9" fill="#d4d4d4"/>
<circle cx="497.8" cy="323.7" r="3.9" fill="#d4d4d4"/>
<circle cx="521.0" cy="330.4" r="3.9" fill="#d4d4d4"/>
<circle cx="544.1" cy="336.5" r="3.9" fill="#d4d4d4"/>
<line x1="349.19" y1="408.72" x2="349.19" y2="399.40" stroke="#5c5c5c" stroke-width="1.2" />
<line x1="345.19" y1="399.40" x2="353.19" y2="399.40" stroke="#5c5c5c" stroke-width="1.2" />
<line x1="345.19" y1="408.72" x2="353.19" y2="408.72" stroke="#5c5c5c" stroke-width="1.2" />
<line x1="354.98" y1="402.89" x2="354.98" y2="388.91" stroke="#5c5c5c" stroke-width="1.2" />
<line x1="350.98" y1="388.91" x2="358.98" y2="388.91" stroke="#5c5c5c" stroke-width="1.2" />
<line x1="350.98" y1="402.89" x2="358.98" y2="402.89" stroke="#5c5c5c" stroke-width="1.2" />
<line x1="360.77" y1="392.18" x2="360.77" y2="378.20" stroke="#5c5c5c" stroke-width="1.2" />
<line x1="356.77" y1="378.20" x2="364.77" y2="378.20" stroke="#5c5c5c" stroke-width="1.2" />
<line x1="356.77" y1="392.18" x2="364.77" y2="392.18" stroke="#5c5c5c" stroke-width="1.2" />
<line x1="366.56" y1="388.45" x2="366.56" y2="372.14" stroke="#5c5c5c" stroke-width="1.2" />
<line x1="362.56" y1="372.14" x2="370.56" y2="372.14" stroke="#5c5c5c" stroke-width="1.2" />
<line x1="362.56" y1="388.45" x2="370.56" y2="388.45" stroke="#5c5c5c" stroke-width="1.2" />
<line x1="372.35" y1="380.76" x2="372.35" y2="364.45" stroke="#5c5c5c" stroke-width="1.2" />
<line x1="368.35" y1="364.45" x2="376.35" y2="364.45" stroke="#5c5c5c" stroke-width="1.2" />
<line x1="368.35" y1="380.76" x2="376.35" y2="380.76" stroke="#5c5c5c" stroke-width="1.2" />
<line x1="382.00" y1="375.17" x2="382.00" y2="356.53" stroke="#5c5c5c" stroke-width="1.2" />
<line x1="378.00" y1="356.53" x2="386.00" y2="356.53" stroke="#5c5c5c" stroke-width="1.2" />
<line x1="378.00" y1="375.17" x2="386.00" y2="375.17" stroke="#5c5c5c" stroke-width="1.2" />
<line x1="391.65" y1="366.55" x2="391.65" y2="347.91" stroke="#5c5c5c" stroke-width="1.2" />
<line x1="387.65" y1="347.91" x2="395.65" y2="347.91" stroke="#5c5c5c" stroke-width="1.2" />
<line x1="387.65" y1="366.55" x2="395.65" y2="366.55" stroke="#5c5c5c" stroke-width="1.2" />
<line x1="401.30" y1="360.02" x2="401.30" y2="341.38" stroke="#5c5c5c" stroke-width="1.2" />
<line x1="397.30" y1="341.38" x2="405.30" y2="341.38" stroke="#5c5c5c" stroke-width="1.2" />
<line x1="397.30" y1="360.02" x2="405.30" y2="360.02" stroke="#5c5c5c" stroke-width="1.2" />
<line x1="424.46" y1="359.79" x2="424.46" y2="341.15" stroke="#5c5c5c" stroke-width="1.2" />
<line x1="420.46" y1="341.15" x2="428.46" y2="341.15" stroke="#5c5c5c" stroke-width="1.2" />
<line x1="420.46" y1="359.79" x2="428.46" y2="359.79" stroke="#5c5c5c" stroke-width="1.2" />
<line x1="447.62" y1="360.25" x2="447.62" y2="340.68" stroke="#5c5c5c" stroke-width="1.2" />
<line x1="443.62" y1="340.68" x2="451.62" y2="340.68" stroke="#5c5c5c" stroke-width="1.2" />
<line x1="443.62" y1="360.25" x2="451.62" y2="360.25" stroke="#5c5c5c" stroke-width="1.2" />
<line x1="474.64" y1="360.25" x2="474.64" y2="340.68" stroke="#5c5c5c" stroke-width="1.2" />
<line x1="470.64" y1="340.68" x2="478.64" y2="340.68" stroke="#5c5c5c" stroke-width="1.2" />
<line x1="470.64" y1="360.25" x2="478.64" y2="360.25" stroke="#5c5c5c" stroke-width="1.2" />
<line x1="497.80" y1="359.56" x2="497.80" y2="345.58" stroke="#5c5c5c" stroke-width="1.2" />
<line x1="493.80" y1="345.58" x2="501.80" y2="345.58" stroke="#5c5c5c" stroke-width="1.2" />
<line x1="493.80" y1="359.56" x2="501.80" y2="359.56" stroke="#5c5c5c" stroke-width="1.2" />
<line x1="520.96" y1="361.88" x2="520.96" y2="347.91" stroke="#5c5c5c" stroke-width="1.2" />
<line x1="516.96" y1="347.91" x2="524.96" y2="347.91" stroke="#5c5c5c" stroke-width="1.2" />
<line x1="516.96" y1="361.88" x2="524.96" y2="361.88" stroke="#5c5c5c" stroke-width="1.2" />
<line x1="544.12" y1="368.18" x2="544.12" y2="351.87" stroke="#5c5c5c" stroke-width="1.2" />
<line x1="540.12" y1="351.87" x2="548.12" y2="351.87" stroke="#5c5c5c" stroke-width="1.2" />
<line x1="540.12" y1="368.18" x2="548.12" y2="368.18" stroke="#5c5c5c" stroke-width="1.2" />
<polyline points="343.4,444.6 349.2,404.1 355.0,395.9 360.8,385.2 366.6,380.3 372.3,372.6 382.0,365.8 391.6,357.2 401.3,350.7 424.5,350.5 447.6,350.5 474.6,350.5 497.8,352.6 521.0,354.9 544.1,360.0" fill="none" stroke="#5c5c5c" stroke-width="3.2" stroke-linejoin="round"/>
<circle cx="343.4" cy="444.6" r="3.9" fill="#5c5c5c"/>
<circle cx="349.2" cy="404.1" r="3.9" fill="#5c5c5c"/>
<circle cx="355.0" cy="395.9" r="3.9" fill="#5c5c5c"/>
<circle cx="360.8" cy="385.2" r="3.9" fill="#5c5c5c"/>
<circle cx="366.6" cy="380.3" r="3.9" fill="#5c5c5c"/>
<circle cx="372.3" cy="372.6" r="3.9" fill="#5c5c5c"/>
<circle cx="382.0" cy="365.8" r="3.9" fill="#5c5c5c"/>
<circle cx="391.6" cy="357.2" r="3.9" fill="#5c5c5c"/>
<circle cx="401.3" cy="350.7" r="3.9" fill="#5c5c5c"/>
<circle cx="424.5" cy="350.5" r="3.9" fill="#5c5c5c"/>
<circle cx="447.6" cy="350.5" r="3.9" fill="#5c5c5c"/>
<circle cx="474.6" cy="350.5" r="3.9" fill="#5c5c5c"/>
<circle cx="497.8" cy="352.6" r="3.9" fill="#5c5c5c"/>
<circle cx="521.0" cy="354.9" r="3.9" fill="#5c5c5c"/>
<circle cx="544.1" cy="360.0" r="3.9" fill="#5c5c5c"/>
<line x1="349.19" y1="419.90" x2="349.19" y2="408.25" stroke="#f9b055" stroke-width="1.2" />
<line x1="345.19" y1="408.25" x2="353.19" y2="408.25" stroke="#f9b055" stroke-width="1.2" />
<line x1="345.19" y1="419.90" x2="353.19" y2="419.90" stroke="#f9b055" stroke-width="1.2" />
<line x1="354.98" y1="407.79" x2="354.98" y2="393.81" stroke="#f9b055" stroke-width="1.2" />
<line x1="350.98" y1="393.81" x2="358.98" y2="393.81" stroke="#f9b055" stroke-width="1.2" />
<line x1="350.98" y1="407.79" x2="358.98" y2="407.79" stroke="#f9b055" stroke-width="1.2" />
<line x1="360.77" y1="399.86" x2="360.77" y2="383.55" stroke="#f9b055" stroke-width="1.2" />
<line x1="356.77" y1="383.55" x2="364.77" y2="383.55" stroke="#f9b055" stroke-width="1.2" />
<line x1="356.77" y1="399.86" x2="364.77" y2="399.86" stroke="#f9b055" stroke-width="1.2" />
<line x1="366.56" y1="396.60" x2="366.56" y2="382.62" stroke="#f9b055" stroke-width="1.2" />
<line x1="362.56" y1="382.62" x2="370.56" y2="382.62" stroke="#f9b055" stroke-width="1.2" />
<line x1="362.56" y1="396.60" x2="370.56" y2="396.60" stroke="#f9b055" stroke-width="1.2" />
<line x1="372.35" y1="394.97" x2="372.35" y2="378.66" stroke="#f9b055" stroke-width="1.2" />
<line x1="368.35" y1="378.66" x2="376.35" y2="378.66" stroke="#f9b055" stroke-width="1.2" />
<line x1="368.35" y1="394.97" x2="376.35" y2="394.97" stroke="#f9b055" stroke-width="1.2" />
<line x1="382.00" y1="392.18" x2="382.00" y2="378.20" stroke="#f9b055" stroke-width="1.2" />
<line x1="378.00" y1="378.20" x2="386.00" y2="378.20" stroke="#f9b055" stroke-width="1.2" />
<line x1="378.00" y1="392.18" x2="386.00" y2="392.18" stroke="#f9b055" stroke-width="1.2" />
<line x1="391.65" y1="387.98" x2="391.65" y2="374.00" stroke="#f9b055" stroke-width="1.2" />
<line x1="387.65" y1="374.00" x2="395.65" y2="374.00" stroke="#f9b055" stroke-width="1.2" />
<line x1="387.65" y1="387.98" x2="395.65" y2="387.98" stroke="#f9b055" stroke-width="1.2" />
<line x1="401.30" y1="386.58" x2="401.30" y2="371.21" stroke="#f9b055" stroke-width="1.2" />
<line x1="397.30" y1="371.21" x2="405.30" y2="371.21" stroke="#f9b055" stroke-width="1.2" />
<line x1="397.30" y1="386.58" x2="405.30" y2="386.58" stroke="#f9b055" stroke-width="1.2" />
<line x1="424.46" y1="386.82" x2="424.46" y2="370.97" stroke="#f9b055" stroke-width="1.2" />
<line x1="420.46" y1="370.97" x2="428.46" y2="370.97" stroke="#f9b055" stroke-width="1.2" />
<line x1="420.46" y1="386.82" x2="428.46" y2="386.82" stroke="#f9b055" stroke-width="1.2" />
<line x1="447.62" y1="388.45" x2="447.62" y2="368.88" stroke="#f9b055" stroke-width="1.2" />
<line x1="443.62" y1="368.88" x2="451.62" y2="368.88" stroke="#f9b055" stroke-width="1.2" />
<line x1="443.62" y1="388.45" x2="451.62" y2="388.45" stroke="#f9b055" stroke-width="1.2" />
<line x1="474.64" y1="390.31" x2="474.64" y2="367.01" stroke="#f9b055" stroke-width="1.2" />
<line x1="470.64" y1="367.01" x2="478.64" y2="367.01" stroke="#f9b055" stroke-width="1.2" />
<line x1="470.64" y1="390.31" x2="478.64" y2="390.31" stroke="#f9b055" stroke-width="1.2" />
<line x1="497.80" y1="391.01" x2="497.80" y2="366.31" stroke="#f9b055" stroke-width="1.2" />
<line x1="493.80" y1="366.31" x2="501.80" y2="366.31" stroke="#f9b055" stroke-width="1.2" />
<line x1="493.80" y1="391.01" x2="501.80" y2="391.01" stroke="#f9b055" stroke-width="1.2" />
<line x1="520.96" y1="392.64" x2="520.96" y2="364.68" stroke="#f9b055" stroke-width="1.2" />
<line x1="516.96" y1="364.68" x2="524.96" y2="364.68" stroke="#f9b055" stroke-width="1.2" />
<line x1="516.96" y1="392.64" x2="524.96" y2="392.64" stroke="#f9b055" stroke-width="1.2" />
<line x1="544.12" y1="393.57" x2="544.12" y2="363.28" stroke="#f9b055" stroke-width="1.2" />
<line x1="540.12" y1="363.28" x2="548.12" y2="363.28" stroke="#f9b055" stroke-width="1.2" />
<line x1="540.12" y1="393.57" x2="548.12" y2="393.57" stroke="#f9b055" stroke-width="1.2" />
<polyline points="343.4,444.6 349.2,414.1 355.0,400.8 360.8,391.7 366.6,389.6 372.3,386.8 382.0,385.2 391.6,381.0 401.3,378.9 424.5,378.9 447.6,378.7 474.6,378.7 497.8,378.7 521.0,378.7 544.1,378.4" fill="none" stroke="#f8a233" stroke-width="3.2" stroke-linejoin="round"/>
<circle cx="343.4" cy="444.6" r="3.9" fill="#f8a233"/>
<circle cx="349.2" cy="414.1" r="3.9" fill="#f8a233"/>
<circle cx="355.0" cy="400.8" r="3.9" fill="#f8a233"/>
<circle cx="360.8" cy="391.7" r="3.9" fill="#f8a233"/>
<circle cx="366.6" cy="389.6" r="3.9" fill="#f8a233"/>
<circle cx="372.3" cy="386.8" r="3.9" fill="#f8a233"/>
<circle cx="382.0" cy="385.2" r="3.9" fill="#f8a233"/>
<circle cx="391.6" cy="381.0" r="3.9" fill="#f8a233"/>
<circle cx="401.3" cy="378.9" r="3.9" fill="#f8a233"/>
<circle cx="424.5" cy="378.9" r="3.9" fill="#f8a233"/>
<circle cx="447.6" cy="378.7" r="3.9" fill="#f8a233"/>
<circle cx="474.6" cy="378.7" r="3.9" fill="#f8a233"/>
<circle cx="497.8" cy="378.7" r="3.9" fill="#f8a233"/>
<circle cx="521.0" cy="378.7" r="3.9" fill="#f8a233"/>
<circle cx="544.1" cy="378.4" r="3.9" fill="#f8a233"/>
<line x1="349.80" y1="270.30" x2="364.60" y2="270.30" stroke="#d4d4d4" stroke-width="3.2" />
<circle cx="357.2" cy="270.3" r="4" fill="#d4d4d4"/>
<text x="373.70" y="274.90" font-size="11.5" text-anchor="start" font-weight="normal" fill="#333" stroke="#333" stroke-width="0.15" >H (Non-P)</text>
<line x1="349.80" y1="287.50" x2="364.60" y2="287.50" stroke="#5c5c5c" stroke-width="3.2" />
<circle cx="357.2" cy="287.5" r="4" fill="#5c5c5c"/>
<text x="373.70" y="292.10" font-size="11.5" text-anchor="start" font-weight="normal" fill="#333" stroke="#333" stroke-width="0.15" >H (P)</text>
<line x1="349.80" y1="304.70" x2="364.60" y2="304.70" stroke="#f8a233" stroke-width="3.2" />
<circle cx="357.2" cy="304.7" r="4" fill="#f8a233"/>
<text x="373.70" y="309.30" font-size="11.5" text-anchor="start" font-weight="normal" fill="#333" stroke="#333" stroke-width="0.15" >H (P+T)</text>
<path d="M626.9,445.6 L626.9,256.9 L839.2,256.9 L839.2,445.6 Z" fill="none" stroke="#383838" stroke-width="2"/>
<line x1="620.50" y1="434.00" x2="626.90" y2="434.00" stroke="#383838" stroke-width="2" />
<text x="618.80" y="438.30" font-size="12.5" text-anchor="end" font-weight="bold" fill="#222" stroke="#222" stroke-width="0.35" >20</text>
<line x1="620.50" y1="394.75" x2="626.90" y2="394.75" stroke="#383838" stroke-width="2" />
<text x="618.80" y="399.05" font-size="12.5" text-anchor="end" font-weight="bold" fill="#222" stroke="#222" stroke-width="0.35" >40</text>
<line x1="620.50" y1="355.50" x2="626.90" y2="355.50" stroke="#383838" stroke-width="2" />
<text x="618.80" y="359.80" font-size="12.5" text-anchor="end" font-weight="bold" fill="#222" stroke="#222" stroke-width="0.35" >60</text>
<line x1="620.50" y1="316.25" x2="626.90" y2="316.25" stroke="#383838" stroke-width="2" />
<text x="618.80" y="320.55" font-size="12.5" text-anchor="end" font-weight="bold" fill="#222" stroke="#222" stroke-width="0.35" >80</text>
<line x1="620.50" y1="277.00" x2="626.90" y2="277.00" stroke="#383838" stroke-width="2" />
<text x="618.80" y="281.30" font-size="12.5" text-anchor="end" font-weight="bold" fill="#222" stroke="#222" stroke-width="0.35" >100</text>
<line x1="626.70" y1="445.60" x2="626.70" y2="451.60" stroke="#383838" stroke-width="2" />
<text x="626.70" y="464.40" font-size="12.5" text-anchor="middle" font-weight="bold" fill="#222" stroke="#222" stroke-width="0.35" >0</text>
<line x1="659.30" y1="445.60" x2="659.30" y2="451.60" stroke="#383838" stroke-width="2" />
<text x="659.30" y="464.40" font-size="12.5" text-anchor="middle" font-weight="bold" fill="#222" stroke="#222" stroke-width="0.35" >4</text>
<line x1="691.90" y1="445.60" x2="691.90" y2="451.60" stroke="#383838" stroke-width="2" />
<text x="691.90" y="464.40" font-size="12.5" text-anchor="middle" font-weight="bold" fill="#222" stroke="#222" stroke-width="0.35" >8</text>
<line x1="724.50" y1="445.60" x2="724.50" y2="451.60" stroke="#383838" stroke-width="2" />
<text x="724.50" y="464.40" font-size="12.5" text-anchor="middle" font-weight="bold" fill="#222" stroke="#222" stroke-width="0.35" >12</text>
<line x1="757.10" y1="445.60" x2="757.10" y2="451.60" stroke="#383838" stroke-width="2" />
<text x="757.10" y="464.40" font-size="12.5" text-anchor="middle" font-weight="bold" fill="#222" stroke="#222" stroke-width="0.35" >16</text>
<line x1="789.70" y1="445.60" x2="789.70" y2="451.60" stroke="#383838" stroke-width="2" />
<text x="789.70" y="464.40" font-size="12.5" text-anchor="middle" font-weight="bold" fill="#222" stroke="#222" stroke-width="0.35" >20</text>
<line x1="822.30" y1="445.60" x2="822.30" y2="451.60" stroke="#383838" stroke-width="2" />
<text x="822.30" y="464.40" font-size="12.5" text-anchor="middle" font-weight="bold" fill="#222" stroke="#222" stroke-width="0.35" >24</text>
<text x="732.70" y="484.30" font-size="13.8" text-anchor="middle" font-weight="bold" fill="#222" stroke="#222" stroke-width="0.35" >Time (day)</text>
<text x="0" y="0" transform="translate(590.60,437.90) rotate(-90)" font-size="14.6" text-anchor="start" font-weight="bold" fill="#222" stroke="#222" stroke-width="0.35" textLength="187.6" lengthAdjust="spacingAndGlyphs">Weight remaining ratio (%)</text>
<line x1="659.30" y1="310.56" x2="659.30" y2="298.78" stroke="#d8d8d8" stroke-width="1.5" />
<line x1="654.80" y1="298.78" x2="663.80" y2="298.78" stroke="#d8d8d8" stroke-width="1.5" />
<line x1="654.80" y1="310.56" x2="663.80" y2="310.56" stroke="#d8d8d8" stroke-width="1.5" />
<line x1="691.90" y1="355.30" x2="691.90" y2="331.75" stroke="#d8d8d8" stroke-width="1.5" />
<line x1="687.40" y1="331.75" x2="696.40" y2="331.75" stroke="#d8d8d8" stroke-width="1.5" />
<line x1="687.40" y1="355.30" x2="696.40" y2="355.30" stroke="#d8d8d8" stroke-width="1.5" />
<line x1="724.50" y1="363.94" x2="724.50" y2="338.43" stroke="#d8d8d8" stroke-width="1.5" />
<line x1="720.00" y1="338.43" x2="729.00" y2="338.43" stroke="#d8d8d8" stroke-width="1.5" />
<line x1="720.00" y1="363.94" x2="729.00" y2="363.94" stroke="#d8d8d8" stroke-width="1.5" />
<line x1="757.10" y1="380.82" x2="757.10" y2="357.27" stroke="#d8d8d8" stroke-width="1.5" />
<line x1="752.60" y1="357.27" x2="761.60" y2="357.27" stroke="#d8d8d8" stroke-width="1.5" />
<line x1="752.60" y1="380.82" x2="761.60" y2="380.82" stroke="#d8d8d8" stroke-width="1.5" />
<line x1="789.70" y1="386.90" x2="789.70" y2="375.12" stroke="#d8d8d8" stroke-width="1.5" />
<line x1="785.20" y1="375.12" x2="794.20" y2="375.12" stroke="#d8d8d8" stroke-width="1.5" />
<line x1="785.20" y1="386.90" x2="794.20" y2="386.90" stroke="#d8d8d8" stroke-width="1.5" />
<line x1="822.30" y1="428.50" x2="822.30" y2="402.99" stroke="#d8d8d8" stroke-width="1.5" />
<line x1="817.80" y1="402.99" x2="826.80" y2="402.99" stroke="#d8d8d8" stroke-width="1.5" />
<line x1="817.80" y1="428.50" x2="826.80" y2="428.50" stroke="#d8d8d8" stroke-width="1.5" />
<polyline points="626.7,277.0 659.3,304.7 691.9,343.5 724.5,351.2 757.1,369.0 789.7,381.0 822.3,415.7" fill="none" stroke="#d4d4d4" stroke-width="3" stroke-linejoin="round"/>
<rect x="622.70" y="273.00" width="8.00" height="8.00" fill="#d4d4d4" stroke="none" stroke-width="0" />
<rect x="655.30" y="300.67" width="8.00" height="8.00" fill="#d4d4d4" stroke="none" stroke-width="0" />
<rect x="687.90" y="339.53" width="8.00" height="8.00" fill="#d4d4d4" stroke="none" stroke-width="0" />
<rect x="720.50" y="347.18" width="8.00" height="8.00" fill="#d4d4d4" stroke="none" stroke-width="0" />
<rect x="753.10" y="365.04" width="8.00" height="8.00" fill="#d4d4d4" stroke="none" stroke-width="0" />
<rect x="785.70" y="377.01" width="8.00" height="8.00" fill="#d4d4d4" stroke="none" stroke-width="0" />
<rect x="818.30" y="411.75" width="8.00" height="8.00" fill="#d4d4d4" stroke="none" stroke-width="0" />
<line x1="659.30" y1="288.19" x2="659.30" y2="280.34" stroke="#7b7b7b" stroke-width="1.5" />
<line x1="654.80" y1="280.34" x2="663.80" y2="280.34" stroke="#7b7b7b" stroke-width="1.5" />
<line x1="654.80" y1="288.19" x2="663.80" y2="288.19" stroke="#7b7b7b" stroke-width="1.5" />
<line x1="691.90" y1="325.28" x2="691.90" y2="305.65" stroke="#7b7b7b" stroke-width="1.5" />
<line x1="687.40" y1="305.65" x2="696.40" y2="305.65" stroke="#7b7b7b" stroke-width="1.5" />
<line x1="687.40" y1="325.28" x2="696.40" y2="325.28" stroke="#7b7b7b" stroke-width="1.5" />
<line x1="724.50" y1="321.94" x2="724.50" y2="314.09" stroke="#7b7b7b" stroke-width="1.5" />
<line x1="720.00" y1="314.09" x2="729.00" y2="314.09" stroke="#7b7b7b" stroke-width="1.5" />
<line x1="720.00" y1="321.94" x2="729.00" y2="321.94" stroke="#7b7b7b" stroke-width="1.5" />
<line x1="757.10" y1="350.40" x2="757.10" y2="324.88" stroke="#7b7b7b" stroke-width="1.5" />
<line x1="752.60" y1="324.88" x2="761.60" y2="324.88" stroke="#7b7b7b" stroke-width="1.5" />
<line x1="752.60" y1="350.40" x2="761.60" y2="350.40" stroke="#7b7b7b" stroke-width="1.5" />
<line x1="789.70" y1="350.59" x2="789.70" y2="334.89" stroke="#7b7b7b" stroke-width="1.5" />
<line x1="785.20" y1="334.89" x2="794.20" y2="334.89" stroke="#7b7b7b" stroke-width="1.5" />
<line x1="785.20" y1="350.59" x2="794.20" y2="350.59" stroke="#7b7b7b" stroke-width="1.5" />
<line x1="822.30" y1="390.43" x2="822.30" y2="362.96" stroke="#7b7b7b" stroke-width="1.5" />
<line x1="817.80" y1="362.96" x2="826.80" y2="362.96" stroke="#7b7b7b" stroke-width="1.5" />
<line x1="817.80" y1="390.43" x2="826.80" y2="390.43" stroke="#7b7b7b" stroke-width="1.5" />
<polyline points="626.7,277.0 659.3,284.3 691.9,315.5 724.5,318.0 757.1,337.6 789.7,342.7 822.3,376.7" fill="none" stroke="#7b7b7b" stroke-width="3" stroke-linejoin="round"/>
<rect x="622.70" y="273.00" width="8.00" height="8.00" fill="#7b7b7b" stroke="none" stroke-width="0" />
<rect x="655.30" y="280.26" width="8.00" height="8.00" fill="#7b7b7b" stroke="none" stroke-width="0" />
<rect x="687.90" y="311.46" width="8.00" height="8.00" fill="#7b7b7b" stroke="none" stroke-width="0" />
<rect x="720.50" y="314.02" width="8.00" height="8.00" fill="#7b7b7b" stroke="none" stroke-width="0" />
<rect x="753.10" y="333.64" width="8.00" height="8.00" fill="#7b7b7b" stroke="none" stroke-width="0" />
<rect x="785.70" y="338.74" width="8.00" height="8.00" fill="#7b7b7b" stroke="none" stroke-width="0" />
<rect x="818.30" y="372.69" width="8.00" height="8.00" fill="#7b7b7b" stroke="none" stroke-width="0" />
<line x1="659.30" y1="289.36" x2="659.30" y2="275.63" stroke="#f7a233" stroke-width="1.5" />
<line x1="654.80" y1="275.63" x2="663.80" y2="275.63" stroke="#f7a233" stroke-width="1.5" />
<line x1="654.80" y1="289.36" x2="663.80" y2="289.36" stroke="#f7a233" stroke-width="1.5" />
<line x1="691.90" y1="313.31" x2="691.90" y2="285.83" stroke="#f7a233" stroke-width="1.5" />
<line x1="687.40" y1="285.83" x2="696.40" y2="285.83" stroke="#f7a233" stroke-width="1.5" />
<line x1="687.40" y1="313.31" x2="696.40" y2="313.31" stroke="#f7a233" stroke-width="1.5" />
<line x1="724.50" y1="319.59" x2="724.50" y2="299.96" stroke="#f7a233" stroke-width="1.5" />
<line x1="720.00" y1="299.96" x2="729.00" y2="299.96" stroke="#f7a233" stroke-width="1.5" />
<line x1="720.00" y1="319.59" x2="729.00" y2="319.59" stroke="#f7a233" stroke-width="1.5" />
<line x1="757.10" y1="323.51" x2="757.10" y2="301.92" stroke="#f7a233" stroke-width="1.5" />
<line x1="752.60" y1="301.92" x2="761.60" y2="301.92" stroke="#f7a233" stroke-width="1.5" />
<line x1="752.60" y1="323.51" x2="761.60" y2="323.51" stroke="#f7a233" stroke-width="1.5" />
<line x1="789.70" y1="345.69" x2="789.70" y2="310.36" stroke="#f7a233" stroke-width="1.5" />
<line x1="785.20" y1="310.36" x2="794.20" y2="310.36" stroke="#f7a233" stroke-width="1.5" />
<line x1="785.20" y1="345.69" x2="794.20" y2="345.69" stroke="#f7a233" stroke-width="1.5" />
<line x1="822.30" y1="370.61" x2="822.30" y2="347.06" stroke="#f7a233" stroke-width="1.5" />
<line x1="817.80" y1="347.06" x2="826.80" y2="347.06" stroke="#f7a233" stroke-width="1.5" />
<line x1="817.80" y1="370.61" x2="826.80" y2="370.61" stroke="#f7a233" stroke-width="1.5" />
<polyline points="626.7,277.0 659.3,282.5 691.9,299.6 724.5,309.8 757.1,312.7 789.7,328.0 822.3,358.8" fill="none" stroke="#f7a233" stroke-width="3" stroke-linejoin="round"/>
<rect x="622.70" y="273.00" width="8.00" height="8.00" fill="#f7a233" stroke="none" stroke-width="0" />
<rect x="655.30" y="278.50" width="8.00" height="8.00" fill="#f7a233" stroke="none" stroke-width="0" />
<rect x="687.90" y="295.57" width="8.00" height="8.00" fill="#f7a233" stroke="none" stroke-width="0" />
<rect x="720.50" y="305.77" width="8.00" height="8.00" fill="#f7a233" stroke="none" stroke-width="0" />
<rect x="753.10" y="308.72" width="8.00" height="8.00" fill="#f7a233" stroke="none" stroke-width="0" />
<rect x="785.70" y="324.02" width="8.00" height="8.00" fill="#f7a233" stroke="none" stroke-width="0" />
<rect x="818.30" y="354.84" width="8.00" height="8.00" fill="#f7a233" stroke="none" stroke-width="0" />
<line x1="640.50" y1="380.40" x2="653.20" y2="380.40" stroke="#d4d4d4" stroke-width="3" />
<rect x="642.80" y="376.40" width="8.00" height="8.00" fill="#d4d4d4" stroke="none" stroke-width="0" />
<text x="660.80" y="385.80" font-size="12.9" text-anchor="start" font-weight="normal" fill="#2e2e2e" stroke="#2e2e2e" stroke-width="0.15" >H (Non-P)</text>
<line x1="640.50" y1="403.10" x2="653.20" y2="403.10" stroke="#7b7b7b" stroke-width="3" />
<rect x="642.80" y="399.10" width="8.00" height="8.00" fill="#7b7b7b" stroke="none" stroke-width="0" />
<text x="660.80" y="408.50" font-size="12.9" text-anchor="start" font-weight="normal" fill="#2e2e2e" stroke="#2e2e2e" stroke-width="0.15" >H (P)</text>
<line x1="640.50" y1="423.30" x2="653.20" y2="423.30" stroke="#f7a233" stroke-width="3" />
<rect x="642.80" y="419.30" width="8.00" height="8.00" fill="#f7a233" stroke="none" stroke-width="0" />
<text x="660.80" y="428.70" font-size="12.9" text-anchor="start" font-weight="normal" fill="#2e2e2e" stroke="#2e2e2e" stroke-width="0.15" >H (P+T)</text>
<path d="M77.6,683.0 L77.6,499.3 L282.6,499.3 L282.6,683.0 Z" fill="none" stroke="#555" stroke-width="2"/>
<line x1="73.50" y1="682.80" x2="77.60" y2="682.80" stroke="#555" stroke-width="1.8" />
<text x="71.30" y="686.40" font-size="10.5" text-anchor="end" font-weight="bold" fill="#222" stroke="#222" stroke-width="0.35" >0</text>
<line x1="73.50" y1="646.10" x2="77.60" y2="646.10" stroke="#555" stroke-width="1.8" />
<text x="71.30" y="649.70" font-size="10.5" text-anchor="end" font-weight="bold" fill="#222" stroke="#222" stroke-width="0.35" >20</text>
<line x1="73.50" y1="609.40" x2="77.60" y2="609.40" stroke="#555" stroke-width="1.8" />
<text x="71.30" y="613.00" font-size="10.5" text-anchor="end" font-weight="bold" fill="#222" stroke="#222" stroke-width="0.35" >40</text>
<line x1="73.50" y1="572.70" x2="77.60" y2="572.70" stroke="#555" stroke-width="1.8" />
<text x="71.30" y="576.30" font-size="10.5" text-anchor="end" font-weight="bold" fill="#222" stroke="#222" stroke-width="0.35" >60</text>
<line x1="73.50" y1="536.00" x2="77.60" y2="536.00" stroke="#555" stroke-width="1.8" />
<text x="71.30" y="539.60" font-size="10.5" text-anchor="end" font-weight="bold" fill="#222" stroke="#222" stroke-width="0.35" >80</text>
<line x1="73.50" y1="499.30" x2="77.60" y2="499.30" stroke="#555" stroke-width="1.8" />
<text x="71.30" y="502.90" font-size="10.5" text-anchor="end" font-weight="bold" fill="#222" stroke="#222" stroke-width="0.35" >100</text>
<line x1="75.50" y1="664.45" x2="77.60" y2="664.45" stroke="#555" stroke-width="1.6" />
<line x1="75.50" y1="627.75" x2="77.60" y2="627.75" stroke="#555" stroke-width="1.6" />
<line x1="75.50" y1="591.05" x2="77.60" y2="591.05" stroke="#555" stroke-width="1.6" />
<line x1="75.50" y1="554.35" x2="77.60" y2="554.35" stroke="#555" stroke-width="1.6" />
<line x1="75.50" y1="517.65" x2="77.60" y2="517.65" stroke="#555" stroke-width="1.6" />
<line x1="77.70" y1="683.00" x2="77.70" y2="687.50" stroke="#555" stroke-width="1.8" />
<text x="77.70" y="698.20" font-size="10.5" text-anchor="middle" font-weight="bold" fill="#222" stroke="#222" stroke-width="0.35" >0</text>
<line x1="109.15" y1="683.00" x2="109.15" y2="687.50" stroke="#555" stroke-width="1.8" />
<text x="109.15" y="698.20" font-size="10.5" text-anchor="middle" font-weight="bold" fill="#222" stroke="#222" stroke-width="0.35" >10</text>
<line x1="140.60" y1="683.00" x2="140.60" y2="687.50" stroke="#555" stroke-width="1.8" />
<text x="140.60" y="698.20" font-size="10.5" text-anchor="middle" font-weight="bold" fill="#222" stroke="#222" stroke-width="0.35" >20</text>
<line x1="172.05" y1="683.00" x2="172.05" y2="687.50" stroke="#555" stroke-width="1.8" />
<text x="172.05" y="698.20" font-size="10.5" text-anchor="middle" font-weight="bold" fill="#222" stroke="#222" stroke-width="0.35" >30</text>
<line x1="203.50" y1="683.00" x2="203.50" y2="687.50" stroke="#555" stroke-width="1.8" />
<text x="203.50" y="698.20" font-size="10.5" text-anchor="middle" font-weight="bold" fill="#222" stroke="#222" stroke-width="0.35" >40</text>
<line x1="234.95" y1="683.00" x2="234.95" y2="687.50" stroke="#555" stroke-width="1.8" />
<text x="234.95" y="698.20" font-size="10.5" text-anchor="middle" font-weight="bold" fill="#222" stroke="#222" stroke-width="0.35" >50</text>
<line x1="266.40" y1="683.00" x2="266.40" y2="687.50" stroke="#555" stroke-width="1.8" />
<text x="266.40" y="698.20" font-size="10.5" text-anchor="middle" font-weight="bold" fill="#222" stroke="#222" stroke-width="0.35" >60</text>
<line x1="93.42" y1="683.00" x2="93.42" y2="686.00" stroke="#555" stroke-width="1.6" />
<line x1="124.88" y1="683.00" x2="124.88" y2="686.00" stroke="#555" stroke-width="1.6" />
<line x1="156.32" y1="683.00" x2="156.32" y2="686.00" stroke="#555" stroke-width="1.6" />
<line x1="187.78" y1="683.00" x2="187.78" y2="686.00" stroke="#555" stroke-width="1.6" />
<line x1="219.23" y1="683.00" x2="219.23" y2="686.00" stroke="#555" stroke-width="1.6" />
<line x1="250.68" y1="683.00" x2="250.68" y2="686.00" stroke="#555" stroke-width="1.6" />
<line x1="282.12" y1="683.00" x2="282.12" y2="686.00" stroke="#555" stroke-width="1.6" />
<text x="178.00" y="713.80" font-size="13.3" text-anchor="middle" font-weight="bold" fill="#2e2e2e" stroke="#2e2e2e" stroke-width="0.35" >Strain (%)</text>
<text x="0" y="0" transform="translate(49.60,631.70) rotate(-90)" font-size="13.7" text-anchor="start" font-weight="bold" fill="#2e2e2e" stroke="#2e2e2e" stroke-width="0.35" textLength="77.6" lengthAdjust="spacingAndGlyphs">Stress (kPa)</text>
<polyline points="77.7,682.2 80.8,682.2 84.0,682.2 87.1,682.1 90.3,682.1 93.4,682.0 96.6,682.0 99.7,682.0 102.9,681.9 106.0,681.9 109.2,681.8 112.3,681.7 115.4,681.7 118.6,681.6 121.7,681.5 124.9,681.5 128.0,681.4 131.2,681.3 134.3,681.2 137.5,681.1 140.6,681.0 143.7,680.9 146.9,680.7 150.0,680.6 153.2,680.4 156.3,680.2 159.5,680.0 162.6,679.8 165.8,679.5 168.9,679.3 172.1,679.0 175.2,678.6 178.3,678.2 181.5,677.8 184.6,677.3 187.8,676.7 190.9,676.1 194.1,675.4 197.2,674.7 200.4,673.8 203.5,672.8 206.6,671.7 209.8,670.4 212.9,669.0 216.1,667.4 219.2,665.6 222.4,663.6 225.5,661.3 228.7,658.7 231.8,655.8 234.9,652.5 238.1,648.8 241.2,644.6 244.4,639.9 247.5,634.5 250.7,628.5 253.8,621.7 257.0,614.0 260.1,605.2 263.3,595.4 266.4,584.3" fill="none" stroke="#c8c8c8" stroke-width="3.4" stroke-linejoin="round"/>
<polyline points="77.7,682.2 80.8,682.2 84.0,682.1 87.1,682.0 90.3,681.9 93.4,681.8 96.6,681.7 99.7,681.5 102.9,681.4 106.0,681.2 109.2,681.1 112.3,680.9 115.4,680.7 118.6,680.5 121.7,680.3 124.9,680.0 128.0,679.8 131.2,679.5 134.3,679.2 137.5,678.8 140.6,678.5 143.7,678.1 146.9,677.6 150.0,677.2 153.2,676.6 156.3,676.1 159.5,675.5 162.6,674.8 165.8,674.1 168.9,673.3 172.1,672.4 175.2,671.5 178.3,670.4 181.5,669.3 184.6,668.1 187.8,666.7 190.9,665.2 194.1,663.6 197.2,661.9 200.4,660.0 203.5,657.9 206.6,655.6 209.8,653.1 212.9,650.4 216.1,647.4 219.2,644.2 222.4,640.7 225.5,636.8 228.7,632.6 231.8,627.9 234.9,622.9 238.1,617.4 241.2,611.4 244.4,604.8 247.5,597.6 250.7,589.8 253.8,581.2 257.0,571.8 260.1,561.6 263.3,550.4 266.4,538.1" fill="none" stroke="#707070" stroke-width="3.4" stroke-linejoin="round"/>
<polyline points="77.7,682.2 80.8,681.9 84.0,681.6 87.1,681.3 90.3,681.0 93.4,680.7 96.6,680.3 99.7,679.9 102.9,679.6 106.0,679.2 109.2,678.8 112.3,678.3 115.4,677.9 118.6,677.4 121.7,676.9 124.9,676.4 128.0,675.9 131.2,675.3 134.3,674.7 137.5,674.1 140.6,673.5 143.7,672.7 146.9,672.0 150.0,671.2 153.2,670.4 156.3,669.5 159.5,668.5 162.6,667.5 165.8,666.4 168.9,665.2 172.1,664.0 175.2,662.6 178.3,661.2 181.5,659.6 184.6,658.0 187.8,656.2 190.9,654.2 194.1,652.2 197.2,649.9 200.4,647.5 203.5,644.9 206.6,642.1 209.8,639.1 212.9,635.8 216.1,632.3 219.2,628.5 222.4,624.3 225.5,619.9 228.7,615.0 231.8,609.8 234.9,604.1 238.1,598.0 241.2,591.3 244.4,584.1 247.5,576.3 250.7,567.8 253.8,558.6 257.0,548.7 260.1,537.9 263.3,526.2 266.4,513.5" fill="none" stroke="#f8a12a" stroke-width="3.4" stroke-linejoin="round"/>
<line x1="86.90" y1="516.60" x2="111.80" y2="516.60" stroke="#c4c4c4" stroke-width="3.2" />
<text x="114.30" y="520.40" font-size="13.2" text-anchor="start" font-weight="normal" fill="#333" stroke="#333" stroke-width="0.15" >H (Non-P)</text>
<line x1="86.90" y1="540.90" x2="111.80" y2="540.90" stroke="#707070" stroke-width="3.2" />
<text x="114.30" y="544.70" font-size="13.2" text-anchor="start" font-weight="normal" fill="#333" stroke="#333" stroke-width="0.15" >H (P)</text>
<line x1="86.90" y1="564.80" x2="111.80" y2="564.80" stroke="#f8a12a" stroke-width="3.2" />
<text x="114.30" y="568.60" font-size="13.2" text-anchor="start" font-weight="normal" fill="#333" stroke="#333" stroke-width="0.15" >H (P+T)</text>
<path d="M344.0,687.2 L344.0,498.7 L559.2,498.7 L559.2,687.2" fill="none" stroke="#222" stroke-width="2"/>
<line x1="343.00" y1="687.20" x2="559.20" y2="687.20" stroke="#222" stroke-width="2" />
<line x1="337.50" y1="687.20" x2="344.00" y2="687.20" stroke="#222" stroke-width="2" />
<text x="334.20" y="692.30" font-size="14" text-anchor="end" font-weight="bold" fill="#222" stroke="#222" stroke-width="0.35" >0</text>
<line x1="337.50" y1="632.90" x2="344.00" y2="632.90" stroke="#222" stroke-width="2" />
<text x="334.20" y="638.00" font-size="14" text-anchor="end" font-weight="bold" fill="#222" stroke="#222" stroke-width="0.35" >20</text>
<line x1="337.50" y1="578.60" x2="344.00" y2="578.60" stroke="#222" stroke-width="2" />
<text x="334.20" y="583.70" font-size="14" text-anchor="end" font-weight="bold" fill="#222" stroke="#222" stroke-width="0.35" >40</text>
<line x1="337.50" y1="524.30" x2="344.00" y2="524.30" stroke="#222" stroke-width="2" />
<text x="334.20" y="529.40" font-size="14" text-anchor="end" font-weight="bold" fill="#222" stroke="#222" stroke-width="0.35" >60</text>
<line x1="340.00" y1="660.05" x2="344.00" y2="660.05" stroke="#222" stroke-width="2" />
<line x1="340.00" y1="605.75" x2="344.00" y2="605.75" stroke="#222" stroke-width="2" />
<line x1="340.00" y1="551.45" x2="344.00" y2="551.45" stroke="#222" stroke-width="2" />
<text x="0" y="0" transform="translate(309.60,693.60) rotate(-90)" font-size="14.8" text-anchor="start" font-weight="bold" fill="#222" stroke="#222" stroke-width="0.35" textLength="158.5" lengthAdjust="spacingAndGlyphs">Compressive modulus</text>
<text x="0" y="0" transform="translate(309.60,531.00) rotate(-90)" font-size="14.8" text-anchor="start" font-weight="bold" fill="#222" stroke="#222" stroke-width="0.35" >(</text>
<text x="0" y="0" transform="translate(309.60,523.80) rotate(-90)" font-size="14.8" text-anchor="start" font-weight="bold" fill="#222" stroke="#222" stroke-width="0.35" textLength="25.7" lengthAdjust="spacingAndGlyphs">kPa</text>
<text x="0" y="0" transform="translate(309.60,498.60) rotate(-90)" font-size="14.8" text-anchor="start" font-weight="bold" fill="#222" stroke="#222" stroke-width="0.35" >)</text>
<line x1="387.10" y1="646.20" x2="387.10" y2="642.13" stroke="#444" stroke-width="1.2" />
<line x1="376.60" y1="642.13" x2="397.60" y2="642.13" stroke="#444" stroke-width="1.2" />
<rect x="367.10" y="646.20" width="40.00" height="41.00" fill="#d3d3d3" stroke="#111" stroke-width="2.6" />
<line x1="387.10" y1="687.20" x2="387.10" y2="695.50" stroke="#222" stroke-width="2" />
<line x1="451.50" y1="608.19" x2="451.50" y2="601.68" stroke="#444" stroke-width="1.2" />
<line x1="441.00" y1="601.68" x2="462.00" y2="601.68" stroke="#444" stroke-width="1.2" />
<rect x="431.50" y="608.19" width="40.00" height="79.01" fill="#808080" stroke="#111" stroke-width="2.6" />
<line x1="451.50" y1="687.20" x2="451.50" y2="695.50" stroke="#222" stroke-width="2" />
<line x1="516.60" y1="579.14" x2="516.60" y2="567.47" stroke="#444" stroke-width="1.2" />
<line x1="506.10" y1="567.47" x2="527.10" y2="567.47" stroke="#444" stroke-width="1.2" />
<rect x="496.60" y="579.14" width="40.00" height="108.06" fill="#fba537" stroke="#111" stroke-width="2.6" />
<line x1="516.60" y1="687.20" x2="516.60" y2="695.50" stroke="#222" stroke-width="2" />
<text x="387.20" y="711.70" font-size="13.8" text-anchor="middle" font-weight="bold" fill="#222" stroke="#222" stroke-width="0.35" textLength="65.9" lengthAdjust="spacingAndGlyphs">H (Non-P)</text>
<text x="451.00" y="711.70" font-size="13.8" text-anchor="middle" font-weight="bold" fill="#222" stroke="#222" stroke-width="0.35" textLength="32.4" lengthAdjust="spacingAndGlyphs">H (P)</text>
<text x="515.70" y="711.70" font-size="13.8" text-anchor="middle" font-weight="bold" fill="#222" stroke="#222" stroke-width="0.35" textLength="49.8" lengthAdjust="spacingAndGlyphs">H (P+T)</text>
<line x1="381.20" y1="525.90" x2="516.00" y2="525.90" stroke="#111" stroke-width="2.5" />
<line x1="436.80" y1="509.30" x2="436.80" y2="517.90" stroke="#111" stroke-width="2.5" stroke-linecap="butt"/>
<line x1="433.08" y1="511.45" x2="440.52" y2="515.75" stroke="#111" stroke-width="2.5" stroke-linecap="butt"/>
<line x1="440.52" y1="511.45" x2="433.08" y2="515.75" stroke="#111" stroke-width="2.5" stroke-linecap="butt"/>
<line x1="448.30" y1="509.30" x2="448.30" y2="517.90" stroke="#111" stroke-width="2.5" stroke-linecap="butt"/>
<line x1="444.58" y1="511.45" x2="452.02" y2="515.75" stroke="#111" stroke-width="2.5" stroke-linecap="butt"/>
<line x1="452.02" y1="511.45" x2="444.58" y2="515.75" stroke="#111" stroke-width="2.5" stroke-linecap="butt"/>
<line x1="459.80" y1="509.30" x2="459.80" y2="517.90" stroke="#111" stroke-width="2.5" stroke-linecap="butt"/>
<line x1="456.08" y1="511.45" x2="463.52" y2="515.75" stroke="#111" stroke-width="2.5" stroke-linecap="butt"/>
<line x1="463.52" y1="511.45" x2="456.08" y2="515.75" stroke="#111" stroke-width="2.5" stroke-linecap="butt"/>
<line x1="451.90" y1="556.90" x2="516.00" y2="556.90" stroke="#111" stroke-width="2.5" />
<line x1="484.00" y1="540.00" x2="484.00" y2="548.60" stroke="#111" stroke-width="2.5" stroke-linecap="butt"/>
<line x1="480.28" y1="542.15" x2="487.72" y2="546.45" stroke="#111" stroke-width="2.5" stroke-linecap="butt"/>
<line x1="487.72" y1="542.15" x2="480.28" y2="546.45" stroke="#111" stroke-width="2.5" stroke-linecap="butt"/>
<line x1="387.20" y1="588.30" x2="451.10" y2="588.30" stroke="#111" stroke-width="2.5" />
<line x1="407.70" y1="571.10" x2="407.70" y2="579.70" stroke="#111" stroke-width="2.5" stroke-linecap="butt"/>
<line x1="403.98" y1="573.25" x2="411.42" y2="577.55" stroke="#111" stroke-width="2.5" stroke-linecap="butt"/>
<line x1="411.42" y1="573.25" x2="403.98" y2="577.55" stroke="#111" stroke-width="2.5" stroke-linecap="butt"/>
<line x1="419.20" y1="571.10" x2="419.20" y2="579.70" stroke="#111" stroke-width="2.5" stroke-linecap="butt"/>
<line x1="415.48" y1="573.25" x2="422.92" y2="577.55" stroke="#111" stroke-width="2.5" stroke-linecap="butt"/>
<line x1="422.92" y1="573.25" x2="415.48" y2="577.55" stroke="#111" stroke-width="2.5" stroke-linecap="butt"/>
<line x1="430.70" y1="571.10" x2="430.70" y2="579.70" stroke="#111" stroke-width="2.5" stroke-linecap="butt"/>
<line x1="426.98" y1="573.25" x2="434.42" y2="577.55" stroke="#111" stroke-width="2.5" stroke-linecap="butt"/>
<line x1="434.42" y1="573.25" x2="426.98" y2="577.55" stroke="#111" stroke-width="2.5" stroke-linecap="butt"/>
<path d="M625.1,686.5 L625.1,498.5 L839.3,498.5 L839.3,686.5" fill="none" stroke="#222" stroke-width="2"/>
<line x1="624.10" y1="686.50" x2="839.30" y2="686.50" stroke="#222" stroke-width="2" />
<line x1="618.50" y1="687.00" x2="625.10" y2="687.00" stroke="#222" stroke-width="2" />
<text x="614.60" y="692.00" font-size="13.8" text-anchor="end" font-weight="bold" fill="#222" stroke="#222" stroke-width="0.35" >0</text>
<line x1="618.50" y1="643.50" x2="625.10" y2="643.50" stroke="#222" stroke-width="2" />
<text x="614.60" y="648.50" font-size="13.8" text-anchor="end" font-weight="bold" fill="#222" stroke="#222" stroke-width="0.35" >30</text>
<line x1="618.50" y1="600.00" x2="625.10" y2="600.00" stroke="#222" stroke-width="2" />
<text x="614.60" y="605.00" font-size="13.8" text-anchor="end" font-weight="bold" fill="#222" stroke="#222" stroke-width="0.35" >60</text>
<line x1="618.50" y1="556.50" x2="625.10" y2="556.50" stroke="#222" stroke-width="2" />
<text x="614.60" y="561.50" font-size="13.8" text-anchor="end" font-weight="bold" fill="#222" stroke="#222" stroke-width="0.35" >90</text>
<line x1="618.50" y1="513.00" x2="625.10" y2="513.00" stroke="#222" stroke-width="2" />
<text x="614.60" y="518.00" font-size="13.8" text-anchor="end" font-weight="bold" fill="#222" stroke="#222" stroke-width="0.35" >120</text>
<line x1="621.50" y1="665.25" x2="625.10" y2="665.25" stroke="#222" stroke-width="2" />
<line x1="621.50" y1="621.75" x2="625.10" y2="621.75" stroke="#222" stroke-width="2" />
<line x1="621.50" y1="578.25" x2="625.10" y2="578.25" stroke="#222" stroke-width="2" />
<line x1="621.50" y1="534.75" x2="625.10" y2="534.75" stroke="#222" stroke-width="2" />
<text x="0" y="0" transform="translate(587.60,701.30) rotate(-90)" font-size="14.7" text-anchor="start" font-weight="bold" fill="#222" stroke="#222" stroke-width="0.35" textLength="156.1" lengthAdjust="spacingAndGlyphs">Compressive Strength</text>
<text x="0" y="0" transform="translate(587.60,540.50) rotate(-90)" font-size="14.7" text-anchor="start" font-weight="bold" fill="#222" stroke="#222" stroke-width="0.35" >(</text>
<text x="0" y="0" transform="translate(587.60,526.80) rotate(-90)" font-size="14.7" text-anchor="start" font-weight="bold" fill="#222" stroke="#222" stroke-width="0.35" >k</text>
<text x="0" y="0" transform="translate(587.60,517.90) rotate(-90)" font-size="14.7" text-anchor="start" font-weight="bold" fill="#222" stroke="#222" stroke-width="0.35" >P</text>
<text x="0" y="0" transform="translate(587.60,506.90) rotate(-90)" font-size="14.7" text-anchor="start" font-weight="bold" fill="#222" stroke="#222" stroke-width="0.35" >a</text>
<text x="0" y="0" transform="translate(587.60,497.50) rotate(-90)" font-size="14.7" text-anchor="start" font-weight="bold" fill="#222" stroke="#222" stroke-width="0.35" >)</text>
<line x1="667.30" y1="611.31" x2="667.30" y2="605.37" stroke="#444" stroke-width="1.2" />
<line x1="656.80" y1="605.37" x2="677.80" y2="605.37" stroke="#444" stroke-width="1.2" />
<rect x="647.30" y="611.31" width="40.00" height="75.19" fill="#d3d3d3" stroke="#111" stroke-width="2.6" />
<line x1="667.30" y1="686.50" x2="667.30" y2="694.50" stroke="#222" stroke-width="2" />
<line x1="731.80" y1="580.13" x2="731.80" y2="574.48" stroke="#444" stroke-width="1.2" />
<line x1="721.30" y1="574.48" x2="742.30" y2="574.48" stroke="#444" stroke-width="1.2" />
<rect x="711.80" y="580.13" width="40.00" height="106.37" fill="#808080" stroke="#111" stroke-width="2.6" />
<line x1="731.80" y1="686.50" x2="731.80" y2="694.50" stroke="#222" stroke-width="2" />
<line x1="795.80" y1="566.22" x2="795.80" y2="557.95" stroke="#444" stroke-width="1.2" />
<line x1="785.30" y1="557.95" x2="806.30" y2="557.95" stroke="#444" stroke-width="1.2" />
<rect x="775.80" y="566.22" width="40.00" height="120.28" fill="#fba537" stroke="#111" stroke-width="2.6" />
<line x1="795.80" y1="686.50" x2="795.80" y2="694.50" stroke="#222" stroke-width="2" />
<text x="667.80" y="711.50" font-size="13.8" text-anchor="middle" font-weight="bold" fill="#222" stroke="#222" stroke-width="0.35" textLength="65.2" lengthAdjust="spacingAndGlyphs">H (Non-P)</text>
<text x="731.50" y="711.50" font-size="13.8" text-anchor="middle" font-weight="bold" fill="#222" stroke="#222" stroke-width="0.35" textLength="32.3" lengthAdjust="spacingAndGlyphs">H (P)</text>
<text x="795.70" y="711.50" font-size="13.8" text-anchor="middle" font-weight="bold" fill="#222" stroke="#222" stroke-width="0.35" textLength="49.9" lengthAdjust="spacingAndGlyphs">H (P+T)</text>
<line x1="667.80" y1="524.70" x2="796.10" y2="524.70" stroke="#111" stroke-width="2.5" />
<line x1="726.75" y1="509.00" x2="726.75" y2="517.60" stroke="#111" stroke-width="2.5" stroke-linecap="butt"/>
<line x1="723.03" y1="511.15" x2="730.47" y2="515.45" stroke="#111" stroke-width="2.5" stroke-linecap="butt"/>
<line x1="730.47" y1="511.15" x2="723.03" y2="515.45" stroke="#111" stroke-width="2.5" stroke-linecap="butt"/>
<line x1="738.25" y1="509.00" x2="738.25" y2="517.60" stroke="#111" stroke-width="2.5" stroke-linecap="butt"/>
<line x1="734.53" y1="511.15" x2="741.97" y2="515.45" stroke="#111" stroke-width="2.5" stroke-linecap="butt"/>
<line x1="741.97" y1="511.15" x2="734.53" y2="515.45" stroke="#111" stroke-width="2.5" stroke-linecap="butt"/>
<line x1="732.10" y1="549.90" x2="796.10" y2="549.90" stroke="#111" stroke-width="2.5" />
<line x1="764.00" y1="533.70" x2="764.00" y2="542.30" stroke="#111" stroke-width="2.5" stroke-linecap="butt"/>
<line x1="760.28" y1="535.85" x2="767.72" y2="540.15" stroke="#111" stroke-width="2.5" stroke-linecap="butt"/>
<line x1="767.72" y1="535.85" x2="760.28" y2="540.15" stroke="#111" stroke-width="2.5" stroke-linecap="butt"/>
<line x1="667.80" y1="566.60" x2="731.50" y2="566.60" stroke="#111" stroke-width="2.5" />
<line x1="694.25" y1="550.00" x2="694.25" y2="558.60" stroke="#111" stroke-width="2.5" stroke-linecap="butt"/>
<line x1="690.53" y1="552.15" x2="697.97" y2="556.45" stroke="#111" stroke-width="2.5" stroke-linecap="butt"/>
<line x1="697.97" y1="552.15" x2="690.53" y2="556.45" stroke="#111" stroke-width="2.5" stroke-linecap="butt"/>
<line x1="705.75" y1="550.00" x2="705.75" y2="558.60" stroke="#111" stroke-width="2.5" stroke-linecap="butt"/>
<line x1="702.03" y1="552.15" x2="709.47" y2="556.45" stroke="#111" stroke-width="2.5" stroke-linecap="butt"/>
<line x1="709.47" y1="552.15" x2="702.03" y2="556.45" stroke="#111" stroke-width="2.5" stroke-linecap="butt"/>
</svg>
</body></html>
